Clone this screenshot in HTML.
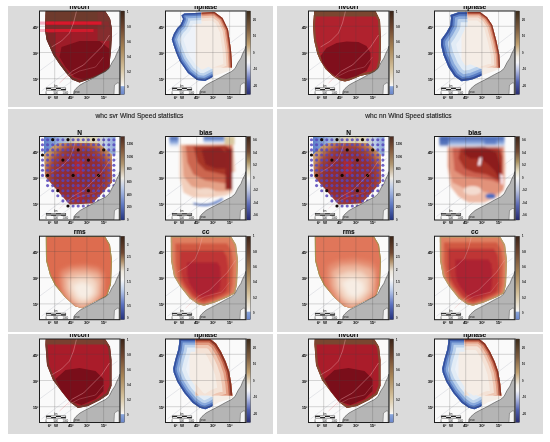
<!DOCTYPE html>
<html><head><meta charset="utf-8"><title>Wind Speed statistics</title>
<style>
html,body{margin:0;padding:0;background:#fff;width:550px;height:442px;overflow:hidden}
svg{display:block}
text{font-family:"Liberation Sans",Arial,sans-serif;fill:#1a1a1a}
.ttl{font-size:6.6px;font-weight:bold;fill:#0a0a0a;stroke:#111;stroke-width:0.1px}
.ptl{font-size:6.65px;fill:#111;stroke:#333;stroke-width:0.12px}
.ax{font-size:4.3px;fill:#111;font-weight:bold;letter-spacing:-0.3px}
.cbt{font-size:2.7px;fill:#000;font-weight:bold}
.tiny{font-size:2.6px;fill:#222}
.tiny2{font-size:3.2px;fill:#222}
</style></head><body>
<svg width="550" height="442" viewBox="0 0 550 442">
<defs><filter id="bl1" x="-10%" y="-10%" width="120%" height="120%"><feGaussianBlur stdDeviation="1.3"/></filter><filter id="bl2" x="-10%" y="-10%" width="120%" height="120%"><feGaussianBlur stdDeviation="2.2"/></filter><filter id="bl05" x="-10%" y="-10%" width="120%" height="120%"><feGaussianBlur stdDeviation="0.6"/></filter><clipPath id="cr1"><rect x="39.5" y="11" width="80.5" height="83.5"/></clipPath><clipPath id="cp2"><polygon points="45.8,11.0 105.0,11.0 110.0,18.8 112.0,29.5 111.6,40.0 111.0,51.0 110.0,59.4 109.4,69.0 105.7,72.0 96.7,76.6 86.3,80.3 79.5,82.5 72.0,79.6 66.0,72.8 59.4,63.9 53.4,55.0 46.7,40.0 45.0,30.0"/></clipPath><linearGradient id="cb3" x1="0" y1="0" x2="0" y2="1"><stop offset="0" stop-color="#3a2418"/><stop offset="0.2" stop-color="#6e4630"/><stop offset="0.45" stop-color="#a88658"/><stop offset="0.7" stop-color="#d6c4a0"/><stop offset="0.86" stop-color="#f1ece2"/><stop offset="0.9" stop-color="#f8f8f8"/><stop offset="0.905" stop-color="#8aa6da"/><stop offset="1" stop-color="#6a86cc"/></linearGradient><clipPath id="cr4"><rect x="165.5" y="11" width="80.5" height="83.5"/></clipPath><clipPath id="cp5"><polygon points="181.5,15.5 184.2,13.5 214.5,12.0 222.5,18.0 228.0,29.5 231.0,50.0 232.0,65.0 232.0,70.0 226.0,72.0 214.5,76.0 205.0,81.0 197.0,80.0 188.0,73.0 179.7,61.0 176.3,53.0 173.5,45.0 171.8,39.3 174.0,33.6 177.4,28.0 180.8,24.6 183.1,19.0"/></clipPath><clipPath id="cp6"><polygon points="165.5,11.0 201.5,11.0 201.5,63.0 212.5,69.0 212.5,94.5 165.5,94.5"/></clipPath><clipPath id="cr7"><rect x="201.5" y="11" width="80.5" height="56.5"/></clipPath><linearGradient id="cb8" x1="0" y1="0" x2="0" y2="1"><stop offset="0" stop-color="#3a2a1a"/><stop offset="0.22" stop-color="#7e5e40"/><stop offset="0.4" stop-color="#c0a070"/><stop offset="0.55" stop-color="#f2eee6"/><stop offset="0.62" stop-color="#f4f4f8"/><stop offset="0.7" stop-color="#c0c8e8"/><stop offset="0.85" stop-color="#5060b0"/><stop offset="1" stop-color="#282c70"/></linearGradient><clipPath id="cr9"><rect x="39.5" y="136.5" width="80.5" height="83.5"/></clipPath><linearGradient id="lg10" gradientUnits="userSpaceOnUse" x1="43.5" y1="0" x2="115.5" y2="0"><stop offset="0" stop-color="#5a7cc8"/><stop offset="0.22" stop-color="#9cb6e0"/><stop offset="0.45" stop-color="#d8d2b0"/><stop offset="0.72" stop-color="#dcd6b8"/><stop offset="0.86" stop-color="#c0d0e8"/><stop offset="1" stop-color="#88a4d8"/></linearGradient><radialGradient id="rg11" gradientUnits="userSpaceOnUse" cx="79.5" cy="176.5" r="38"><stop offset="0" stop-color="#8a2a36"/><stop offset="0.6" stop-color="#922e36"/><stop offset="0.78" stop-color="#a0443c"/><stop offset="0.9" stop-color="#b87050"/><stop offset="1" stop-color="#c89a6c"/></radialGradient><linearGradient id="cb12" x1="0" y1="0" x2="0" y2="1"><stop offset="0" stop-color="#4a2a20"/><stop offset="0.15" stop-color="#80563a"/><stop offset="0.33" stop-color="#b09670"/><stop offset="0.5" stop-color="#eeeae2"/><stop offset="0.62" stop-color="#b8c8e8"/><stop offset="0.82" stop-color="#5e78c2"/><stop offset="1" stop-color="#24347e"/></linearGradient><clipPath id="cr13"><rect x="165.5" y="136.5" width="80.5" height="83.5"/></clipPath><linearGradient id="lg14" x1="0" y1="0" x2="0" y2="1"><stop offset="0" stop-color="#3a5aac"/><stop offset="0.5" stop-color="#8eaade"/><stop offset="1" stop-color="#e8eef8" stop-opacity="0"/></linearGradient><linearGradient id="cb15" x1="0" y1="0" x2="0" y2="1"><stop offset="0" stop-color="#3a2418"/><stop offset="0.18" stop-color="#704832"/><stop offset="0.3" stop-color="#a89060"/><stop offset="0.42" stop-color="#e8e0c8"/><stop offset="0.5" stop-color="#f6f6f6"/><stop offset="0.64" stop-color="#c0c8e0"/><stop offset="0.82" stop-color="#5a68b4"/><stop offset="1" stop-color="#262a70"/></linearGradient><clipPath id="cr16"><rect x="39.5" y="236.2" width="80.5" height="83.5"/></clipPath><clipPath id="cp17"><polygon points="45.8,236.2 105.0,236.2 110.0,244.7 112.0,260.2 111.0,284.2 107.0,296.2 95.0,301.2 82.0,308.2 75.0,306.2 65.0,297.2 55.0,285.2 50.0,275.2 46.0,260.2"/></clipPath><linearGradient id="cb18" x1="0" y1="0" x2="0" y2="1"><stop offset="0" stop-color="#3a2418"/><stop offset="0.2" stop-color="#704832"/><stop offset="0.3" stop-color="#b0906a"/><stop offset="0.42" stop-color="#ece6da"/><stop offset="0.52" stop-color="#f6f6f6"/><stop offset="0.64" stop-color="#c0d0ec"/><stop offset="0.82" stop-color="#5a70c0"/><stop offset="1" stop-color="#24307a"/></linearGradient><clipPath id="cr19"><rect x="165.5" y="236.2" width="80.5" height="83.5"/></clipPath><clipPath id="cp20"><polygon points="170.8,236.2 231.0,236.2 236.0,244.7 238.0,260.2 237.0,284.2 235.0,293.2 227.5,297.2 215.5,302.2 204.0,305.7 198.0,304.2 189.5,298.2 180.0,286.2 174.0,276.2 171.0,260.2"/></clipPath><linearGradient id="cb21" x1="0" y1="0" x2="0" y2="1"><stop offset="0" stop-color="#3a2418"/><stop offset="0.2" stop-color="#6e4630"/><stop offset="0.45" stop-color="#a88658"/><stop offset="0.7" stop-color="#d6c4a0"/><stop offset="0.86" stop-color="#f1ece2"/><stop offset="0.9" stop-color="#f8f8f8"/><stop offset="0.905" stop-color="#8aa6da"/><stop offset="1" stop-color="#6a86cc"/></linearGradient><clipPath id="cr22"><rect x="39.5" y="339" width="80.5" height="83.5"/></clipPath><clipPath id="cp23"><polygon points="45.8,339.0 105.0,339.0 110.0,346.8 111.5,360.0 111.5,385.7 108.0,394.4 100.0,400.0 88.0,406.0 78.0,408.0 70.0,402.0 62.0,392.0 53.0,380.0 47.0,365.0 45.5,345.0"/></clipPath><linearGradient id="cb24" x1="0" y1="0" x2="0" y2="1"><stop offset="0" stop-color="#3a2418"/><stop offset="0.2" stop-color="#6e4630"/><stop offset="0.45" stop-color="#a88658"/><stop offset="0.7" stop-color="#d6c4a0"/><stop offset="0.86" stop-color="#f1ece2"/><stop offset="0.9" stop-color="#f8f8f8"/><stop offset="0.905" stop-color="#8aa6da"/><stop offset="1" stop-color="#6a86cc"/></linearGradient><clipPath id="cr25"><rect x="165.5" y="339" width="80.5" height="83.5"/></clipPath><clipPath id="cp26"><polygon points="179.3,339.0 210.3,339.0 216.0,343.5 221.1,351.8 225.7,361.5 229.2,371.6 231.3,383.9 232.3,395.1 233.3,398.1 227.2,399.7 219.0,402.2 211.4,406.8 205.3,409.3 199.7,407.8 192.6,402.7 184.4,393.0 177.3,381.8 173.7,372.6 173.2,368.6 175.3,359.4 178.3,349.2 179.3,342.0"/></clipPath><clipPath id="cp27"><polygon points="165.5,339.0 195.5,339.0 195.5,391.0 212.5,397.0 212.5,422.5 165.5,422.5"/></clipPath><clipPath id="cr28"><rect x="195.5" y="339" width="80.5" height="56.5"/></clipPath><linearGradient id="cb29" x1="0" y1="0" x2="0" y2="1"><stop offset="0" stop-color="#3a2a1a"/><stop offset="0.22" stop-color="#7e5e40"/><stop offset="0.4" stop-color="#c0a070"/><stop offset="0.55" stop-color="#f2eee6"/><stop offset="0.62" stop-color="#f4f4f8"/><stop offset="0.7" stop-color="#c0c8e8"/><stop offset="0.85" stop-color="#5060b0"/><stop offset="1" stop-color="#282c70"/></linearGradient><clipPath id="cr30"><rect x="308.5" y="11" width="80.5" height="83.5"/></clipPath><clipPath id="cp31"><polygon points="314.3,11.0 375.4,11.0 380.0,20.2 381.0,40.0 380.5,60.0 378.0,70.1 372.3,73.2 360.0,76.0 349.9,80.3 345.0,81.5 339.7,80.3 333.0,76.0 325.5,69.1 320.0,60.0 317.3,53.8 314.0,40.0 313.0,25.0"/></clipPath><linearGradient id="cb32" x1="0" y1="0" x2="0" y2="1"><stop offset="0" stop-color="#3a2418"/><stop offset="0.2" stop-color="#6e4630"/><stop offset="0.45" stop-color="#a88658"/><stop offset="0.7" stop-color="#d6c4a0"/><stop offset="0.86" stop-color="#f1ece2"/><stop offset="0.9" stop-color="#f8f8f8"/><stop offset="0.905" stop-color="#8aa6da"/><stop offset="1" stop-color="#6a86cc"/></linearGradient><clipPath id="cr33"><rect x="434.5" y="11" width="80.5" height="83.5"/></clipPath><clipPath id="cp34"><polygon points="450.5,15.0 458.5,12.2 480.0,12.0 487.0,17.2 492.2,25.0 496.3,40.6 499.3,54.8 500.0,68.0 497.0,70.0 485.0,74.2 472.8,79.3 470.0,80.0 461.6,81.3 454.5,76.2 448.4,67.0 443.3,54.8 441.0,45.0 441.3,39.6 446.4,32.4 450.4,25.3 451.0,18.0"/></clipPath><clipPath id="cp35"><polygon points="434.5,11.0 467.5,11.0 467.5,63.0 481.5,69.0 481.5,94.5 434.5,94.5"/></clipPath><clipPath id="cr36"><rect x="467.5" y="11" width="80.5" height="56.5"/></clipPath><linearGradient id="cb37" x1="0" y1="0" x2="0" y2="1"><stop offset="0" stop-color="#3a2a1a"/><stop offset="0.22" stop-color="#7e5e40"/><stop offset="0.4" stop-color="#c0a070"/><stop offset="0.55" stop-color="#f2eee6"/><stop offset="0.62" stop-color="#f4f4f8"/><stop offset="0.7" stop-color="#c0c8e8"/><stop offset="0.85" stop-color="#5060b0"/><stop offset="1" stop-color="#282c70"/></linearGradient><clipPath id="cr38"><rect x="308.5" y="136.5" width="80.5" height="83.5"/></clipPath><linearGradient id="lg39" gradientUnits="userSpaceOnUse" x1="312.5" y1="0" x2="384.5" y2="0"><stop offset="0" stop-color="#5a7cc8"/><stop offset="0.22" stop-color="#9cb6e0"/><stop offset="0.45" stop-color="#d8d2b0"/><stop offset="0.72" stop-color="#dcd6b8"/><stop offset="0.86" stop-color="#c0d0e8"/><stop offset="1" stop-color="#88a4d8"/></linearGradient><radialGradient id="rg40" gradientUnits="userSpaceOnUse" cx="348.5" cy="176.5" r="38"><stop offset="0" stop-color="#8a2a36"/><stop offset="0.6" stop-color="#922e36"/><stop offset="0.78" stop-color="#a0443c"/><stop offset="0.9" stop-color="#b87050"/><stop offset="1" stop-color="#c89a6c"/></radialGradient><linearGradient id="cb41" x1="0" y1="0" x2="0" y2="1"><stop offset="0" stop-color="#4a2a20"/><stop offset="0.15" stop-color="#80563a"/><stop offset="0.33" stop-color="#b09670"/><stop offset="0.5" stop-color="#eeeae2"/><stop offset="0.62" stop-color="#b8c8e8"/><stop offset="0.82" stop-color="#5e78c2"/><stop offset="1" stop-color="#24347e"/></linearGradient><clipPath id="cr42"><rect x="434.5" y="136.5" width="80.5" height="83.5"/></clipPath><linearGradient id="lg43" x1="0" y1="0" x2="0" y2="1"><stop offset="0" stop-color="#3a5aac"/><stop offset="0.5" stop-color="#8eaade"/><stop offset="1" stop-color="#e8eef8" stop-opacity="0"/></linearGradient><linearGradient id="cb44" x1="0" y1="0" x2="0" y2="1"><stop offset="0" stop-color="#3a2418"/><stop offset="0.18" stop-color="#704832"/><stop offset="0.3" stop-color="#a89060"/><stop offset="0.42" stop-color="#e8e0c8"/><stop offset="0.5" stop-color="#f6f6f6"/><stop offset="0.64" stop-color="#c0c8e0"/><stop offset="0.82" stop-color="#5a68b4"/><stop offset="1" stop-color="#262a70"/></linearGradient><clipPath id="cr45"><rect x="308.5" y="236.2" width="80.5" height="83.5"/></clipPath><clipPath id="cp46"><polygon points="314.8,236.2 374.0,236.2 379.0,244.7 381.0,260.2 380.0,284.2 376.0,296.2 364.0,301.2 351.0,308.2 344.0,306.2 334.0,297.2 324.0,285.2 319.0,275.2 315.0,260.2"/></clipPath><linearGradient id="cb47" x1="0" y1="0" x2="0" y2="1"><stop offset="0" stop-color="#3a2418"/><stop offset="0.2" stop-color="#704832"/><stop offset="0.3" stop-color="#b0906a"/><stop offset="0.42" stop-color="#ece6da"/><stop offset="0.52" stop-color="#f6f6f6"/><stop offset="0.64" stop-color="#c0d0ec"/><stop offset="0.82" stop-color="#5a70c0"/><stop offset="1" stop-color="#24307a"/></linearGradient><clipPath id="cr48"><rect x="434.5" y="236.2" width="80.5" height="83.5"/></clipPath><clipPath id="cp49"><polygon points="439.8,236.2 500.0,236.2 505.0,244.7 507.0,260.2 506.0,284.2 504.0,293.2 496.5,297.2 484.5,302.2 473.0,305.7 467.0,304.2 458.5,298.2 449.0,286.2 443.0,276.2 440.0,260.2"/></clipPath><linearGradient id="cb50" x1="0" y1="0" x2="0" y2="1"><stop offset="0" stop-color="#3a2418"/><stop offset="0.2" stop-color="#6e4630"/><stop offset="0.45" stop-color="#a88658"/><stop offset="0.7" stop-color="#d6c4a0"/><stop offset="0.86" stop-color="#f1ece2"/><stop offset="0.9" stop-color="#f8f8f8"/><stop offset="0.905" stop-color="#8aa6da"/><stop offset="1" stop-color="#6a86cc"/></linearGradient><clipPath id="cr51"><rect x="308.5" y="339" width="80.5" height="83.5"/></clipPath><clipPath id="cp52"><polygon points="314.8,339.0 374.0,339.0 379.0,346.8 380.5,360.0 380.5,385.7 377.0,394.4 369.0,400.0 357.0,406.0 347.0,408.0 339.0,402.0 331.0,392.0 322.0,380.0 316.0,365.0 314.5,345.0"/></clipPath><linearGradient id="cb53" x1="0" y1="0" x2="0" y2="1"><stop offset="0" stop-color="#3a2418"/><stop offset="0.2" stop-color="#6e4630"/><stop offset="0.45" stop-color="#a88658"/><stop offset="0.7" stop-color="#d6c4a0"/><stop offset="0.86" stop-color="#f1ece2"/><stop offset="0.9" stop-color="#f8f8f8"/><stop offset="0.905" stop-color="#8aa6da"/><stop offset="1" stop-color="#6a86cc"/></linearGradient><clipPath id="cr54"><rect x="434.5" y="339" width="80.5" height="83.5"/></clipPath><clipPath id="cp55"><polygon points="448.3,339.0 479.3,339.0 485.0,343.5 490.1,351.8 494.7,361.5 498.2,371.6 500.3,383.9 501.3,395.1 502.3,398.1 496.2,399.7 488.0,402.2 480.4,406.8 474.3,409.3 468.7,407.8 461.6,402.7 453.4,393.0 446.3,381.8 442.7,372.6 442.2,368.6 444.3,359.4 447.3,349.2 448.3,342.0"/></clipPath><clipPath id="cp56"><polygon points="434.5,339.0 464.5,339.0 464.5,391.0 481.5,397.0 481.5,422.5 434.5,422.5"/></clipPath><clipPath id="cr57"><rect x="464.5" y="339" width="80.5" height="56.5"/></clipPath><linearGradient id="cb58" x1="0" y1="0" x2="0" y2="1"><stop offset="0" stop-color="#3a2a1a"/><stop offset="0.22" stop-color="#7e5e40"/><stop offset="0.4" stop-color="#c0a070"/><stop offset="0.55" stop-color="#f2eee6"/><stop offset="0.62" stop-color="#f4f4f8"/><stop offset="0.7" stop-color="#c0c8e8"/><stop offset="0.85" stop-color="#5060b0"/><stop offset="1" stop-color="#282c70"/></linearGradient></defs>
<rect x="0" y="0" width="550" height="442" fill="#fff"/>
<rect x="8" y="6" width="265" height="101" fill="#dbdbdb"/>
<rect x="8" y="109" width="265" height="223" fill="#dbdbdb"/>
<rect x="8" y="334" width="265" height="100" fill="#dbdbdb"/>
<rect x="277" y="6" width="266" height="101" fill="#dbdbdb"/>
<rect x="277" y="109" width="266" height="223" fill="#dbdbdb"/>
<rect x="277" y="334" width="266" height="100" fill="#dbdbdb"/>
<g clip-path="url(#cr1)">
<rect x="39.5" y="11" width="80.5" height="83.5" fill="#fafafa"/>
<path d="M41.5,91 L117.5,33 M53.5,94.5 L119.5,47 M39.5,71 L69.5,49" stroke="#cfd0d8" stroke-width="0.5" fill="none"/>
<rect x="39.5" y="21.5" width="8" height="3.2" fill="#f6b0c4"/>
<rect x="39.5" y="29" width="8" height="3" fill="#f6b8c8"/>
<polygon points="45.8,11.0 105.0,11.0 110.0,18.8 112.0,29.5 111.6,40.0 111.0,51.0 110.0,59.4 109.4,69.0 105.7,72.0 96.7,76.6 86.3,80.3 79.5,82.5 72.0,79.6 66.0,72.8 59.4,63.9 53.4,55.0 46.7,40.0 45.0,30.0" fill="#6a3228" />
<g clip-path="url(#cp2)">
<polygon points="45.8,11.0 105.0,11.0 110.0,18.8 112.0,29.5 111.6,40.0 111.0,51.0 110.0,59.4 109.4,69.0 105.7,72.0 96.7,76.6 86.3,80.3 79.5,82.5 72.0,79.6 66.0,72.8 59.4,63.9 53.4,55.0 46.7,40.0 45.0,30.0" fill="#9e1c28" stroke="#6a3228" stroke-width="4"/>
<rect x="39.5" y="11" width="80.5" height="5.5" fill="#6e3a2c"/>
<rect x="39.5" y="11" width="80.5" height="10.5" fill="#6e3a2c"/>
<rect x="45.5" y="24.7" width="60" height="4.3" fill="#7e2a2a"/>
<rect x="97.5" y="11" width="16" height="30" fill="#7a3430" opacity="0.7"/>
<rect x="45.5" y="21.5" width="56" height="3.2" fill="#d8182c"/>
<rect x="45.5" y="29" width="48" height="3" fill="#d01a2c"/>
<rect x="45.5" y="33" width="10" height="26" fill="#6c2a26" opacity="0.6"/>
<polygon points="61.5,47.0 79.5,41.0 99.5,41.0 109.5,49.0 109.5,67.0 99.5,74.0 84.5,80.0 74.5,77.0 65.5,67.0 59.5,57.0" fill="#7a0f1a"/>
</g>
<path d="M59.5,83 L72.5,71 L83.5,65 L91.5,57 L101.5,47 L109.5,35" stroke="#eaa0a8" stroke-opacity="0.75" stroke-width="0.6" fill="none"/>
<path d="M51.5,47 L61.5,41 L69.5,33 L73.5,23 L76.5,11" stroke="#eaa0a8" stroke-opacity="0.75" stroke-width="0.6" fill="none"/>
<path d="M67.5,77 L79.5,71 L95.5,67 L103.5,57" stroke="#eaa0a8" stroke-opacity="0.5249999999999999" stroke-width="0.5" fill="none"/>
<polygon points="120.0,46.0 119.0,49.0 116.5,54.0 115.0,58.0 112.0,62.5 109.0,68.5 105.5,71.5 99.5,74.5 96.0,76.5 89.5,80.0 84.5,82.5 80.0,85.0 76.0,88.5 74.0,91.0 73.5,94.5 120.0,94.5" fill="#b5b5b5" stroke="#333"  stroke-width="0.5"/>
<polygon points="114.5,85.0 117.5,83.0 119.0,83.0 119.0,94.5 114.0,94.5" fill="#f2f2f2" stroke="#444" stroke-width="0.4"/>
<line x1="39.5" y1="26.3" x2="120.0" y2="26.3" stroke="#444" stroke-opacity="0.38" stroke-width="0.55"/>
<line x1="39.5" y1="52.5" x2="120.0" y2="52.5" stroke="#444" stroke-opacity="0.38" stroke-width="0.55"/>
<line x1="39.5" y1="78.7" x2="120.0" y2="78.7" stroke="#444" stroke-opacity="0.38" stroke-width="0.55"/>
<line x1="54.7" y1="11" x2="54.7" y2="94.5" stroke="#444" stroke-opacity="0.38" stroke-width="0.55"/>
<line x1="70.7" y1="11" x2="70.7" y2="94.5" stroke="#444" stroke-opacity="0.38" stroke-width="0.55"/>
<line x1="86.9" y1="11" x2="86.9" y2="94.5" stroke="#444" stroke-opacity="0.38" stroke-width="0.55"/>
<line x1="103.6" y1="11" x2="103.6" y2="94.5" stroke="#444" stroke-opacity="0.38" stroke-width="0.55"/>
<rect x="46.2" y="87.9" width="19.6" height="2.2" fill="#fff" stroke="#222" stroke-width="0.5"/>
<rect x="46.2" y="87.9" width="4.9" height="1.1" fill="#222"/><rect x="56.0" y="87.9" width="4.9" height="1.1" fill="#222"/>
<rect x="51.1" y="89" width="4.9" height="1.1" fill="#222"/><rect x="60.9" y="89" width="4.9" height="1.1" fill="#222"/>
<text x="54.0" y="86.6" class="tiny">km</text>
<text x="45.5" y="93.5" class="tiny">0</text><text x="53.5" y="93.5" class="tiny">500</text><text x="62.5" y="93.5" class="tiny">1000</text>
<text x="74.5" y="92.5" class="tiny2">pso</text>
</g>
<rect x="39.5" y="11" width="80.5" height="83.5" fill="none" stroke="#1e1e1e" stroke-width="1"/>
<rect x="120.6" y="11" width="4" height="83.5" fill="url(#cb3)" stroke="#333" stroke-width="0.4"/>
<text x="127.0" y="12.5" class="cbt">1</text>
<text x="127.0" y="27.6" class="cbt">0.8</text>
<text x="127.0" y="42.7" class="cbt">0.6</text>
<text x="127.0" y="57.8" class="cbt">0.4</text>
<text x="127.0" y="72.9" class="cbt">0.2</text>
<text x="127.0" y="88.0" class="cbt">0</text>
<text x="38.3" y="28.5" class="ax" text-anchor="end">45°</text>
<text x="38.3" y="54.7" class="ax" text-anchor="end">30°</text>
<text x="38.3" y="80.9" class="ax" text-anchor="end">15°</text>
<text x="49.5" y="98.7" class="ax" text-anchor="middle">6°</text>
<text x="56.0" y="98.7" class="ax" text-anchor="middle">W</text>
<text x="70.7" y="98.7" class="ax" text-anchor="middle">45°</text>
<text x="86.9" y="98.7" class="ax" text-anchor="middle">30°</text>
<text x="103.6" y="98.7" class="ax" text-anchor="middle">15°</text>
<text x="79.75" y="9.2" class="ttl" text-anchor="middle">nvcorr</text>
<g clip-path="url(#cr4)">
<rect x="165.5" y="11" width="80.5" height="83.5" fill="#fafafa"/>
<path d="M167.5,91 L243.5,33 M179.5,94.5 L245.5,47 M165.5,71 L195.5,49" stroke="#cfd0d8" stroke-width="0.5" fill="none"/>
<polygon points="181.5,15.5 184.2,13.5 214.5,12.0 222.5,18.0 228.0,29.5 231.0,50.0 232.0,65.0 232.0,70.0 226.0,72.0 214.5,76.0 205.0,81.0 197.0,80.0 188.0,73.0 179.7,61.0 176.3,53.0 173.5,45.0 171.8,39.3 174.0,33.6 177.4,28.0 180.8,24.6 183.1,19.0" fill="#f5ede6" />
<g clip-path="url(#cp5)">
<rect x="165.5" y="11" width="30" height="83.5" fill="#eef2f8"/>
<g clip-path="url(#cp6)" fill="none" stroke-linejoin="round">
<polygon points="181.5,15.5 184.2,13.5 214.5,12.0 222.5,18.0 228.0,29.5 231.0,50.0 232.0,65.0 232.0,70.0 226.0,72.0 214.5,76.0 205.0,81.0 197.0,80.0 188.0,73.0 179.7,61.0 176.3,53.0 173.5,45.0 171.8,39.3 174.0,33.6 177.4,28.0 180.8,24.6 183.1,19.0" stroke="#e2ecf6" stroke-width="22.0"/>
<polygon points="181.5,15.5 184.2,13.5 214.5,12.0 222.5,18.0 228.0,29.5 231.0,50.0 232.0,65.0 232.0,70.0 226.0,72.0 214.5,76.0 205.0,81.0 197.0,80.0 188.0,73.0 179.7,61.0 176.3,53.0 173.5,45.0 171.8,39.3 174.0,33.6 177.4,28.0 180.8,24.6 183.1,19.0" stroke="#bcd2ec" stroke-width="15.0"/>
<polygon points="181.5,15.5 184.2,13.5 214.5,12.0 222.5,18.0 228.0,29.5 231.0,50.0 232.0,65.0 232.0,70.0 226.0,72.0 214.5,76.0 205.0,81.0 197.0,80.0 188.0,73.0 179.7,61.0 176.3,53.0 173.5,45.0 171.8,39.3 174.0,33.6 177.4,28.0 180.8,24.6 183.1,19.0" stroke="#8aaadc" stroke-width="10.0"/>
<polygon points="181.5,15.5 184.2,13.5 214.5,12.0 222.5,18.0 228.0,29.5 231.0,50.0 232.0,65.0 232.0,70.0 226.0,72.0 214.5,76.0 205.0,81.0 197.0,80.0 188.0,73.0 179.7,61.0 176.3,53.0 173.5,45.0 171.8,39.3 174.0,33.6 177.4,28.0 180.8,24.6 183.1,19.0" stroke="#5a7ec4" stroke-width="6.0"/>
<polygon points="181.5,15.5 184.2,13.5 214.5,12.0 222.5,18.0 228.0,29.5 231.0,50.0 232.0,65.0 232.0,70.0 226.0,72.0 214.5,76.0 205.0,81.0 197.0,80.0 188.0,73.0 179.7,61.0 176.3,53.0 173.5,45.0 171.8,39.3 174.0,33.6 177.4,28.0 180.8,24.6 183.1,19.0" stroke="#34509e" stroke-width="3.0"/>
</g>
<g clip-path="url(#cr7)" fill="none" stroke-linejoin="round">
<polygon points="181.5,15.5 184.2,13.5 214.5,12.0 222.5,18.0 228.0,29.5 231.0,50.0 232.0,65.0 232.0,70.0 226.0,72.0 214.5,76.0 205.0,81.0 197.0,80.0 188.0,73.0 179.7,61.0 176.3,53.0 173.5,45.0 171.8,39.3 174.0,33.6 177.4,28.0 180.8,24.6 183.1,19.0" stroke="#f4e2d6" stroke-width="17.0"/>
<polygon points="181.5,15.5 184.2,13.5 214.5,12.0 222.5,18.0 228.0,29.5 231.0,50.0 232.0,65.0 232.0,70.0 226.0,72.0 214.5,76.0 205.0,81.0 197.0,80.0 188.0,73.0 179.7,61.0 176.3,53.0 173.5,45.0 171.8,39.3 174.0,33.6 177.4,28.0 180.8,24.6 183.1,19.0" stroke="#efc6b2" stroke-width="11.0"/>
<polygon points="181.5,15.5 184.2,13.5 214.5,12.0 222.5,18.0 228.0,29.5 231.0,50.0 232.0,65.0 232.0,70.0 226.0,72.0 214.5,76.0 205.0,81.0 197.0,80.0 188.0,73.0 179.7,61.0 176.3,53.0 173.5,45.0 171.8,39.3 174.0,33.6 177.4,28.0 180.8,24.6 183.1,19.0" stroke="#e29c82" stroke-width="7.0"/>
<polygon points="181.5,15.5 184.2,13.5 214.5,12.0 222.5,18.0 228.0,29.5 231.0,50.0 232.0,65.0 232.0,70.0 226.0,72.0 214.5,76.0 205.0,81.0 197.0,80.0 188.0,73.0 179.7,61.0 176.3,53.0 173.5,45.0 171.8,39.3 174.0,33.6 177.4,28.0 180.8,24.6 183.1,19.0" stroke="#c4644c" stroke-width="4.2"/>
<polygon points="181.5,15.5 184.2,13.5 214.5,12.0 222.5,18.0 228.0,29.5 231.0,50.0 232.0,65.0 232.0,70.0 226.0,72.0 214.5,76.0 205.0,81.0 197.0,80.0 188.0,73.0 179.7,61.0 176.3,53.0 173.5,45.0 171.8,39.3 174.0,33.6 177.4,28.0 180.8,24.6 183.1,19.0" stroke="#883222" stroke-width="2.2"/>
</g>
</g>
<polygon points="246.0,46.0 245.0,49.0 242.5,54.0 241.0,58.0 238.0,62.5 235.0,68.5 231.5,71.5 225.5,74.5 222.0,76.5 215.5,80.0 210.5,82.5 206.0,85.0 202.0,88.5 200.0,91.0 199.5,94.5 246.0,94.5" fill="#b5b5b5" stroke="#333"  stroke-width="0.5"/>
<polygon points="240.5,85.0 243.5,83.0 245.0,83.0 245.0,94.5 240.0,94.5" fill="#f2f2f2" stroke="#444" stroke-width="0.4"/>
<line x1="165.5" y1="26.3" x2="246.0" y2="26.3" stroke="#444" stroke-opacity="0.38" stroke-width="0.55"/>
<line x1="165.5" y1="52.5" x2="246.0" y2="52.5" stroke="#444" stroke-opacity="0.38" stroke-width="0.55"/>
<line x1="165.5" y1="78.7" x2="246.0" y2="78.7" stroke="#444" stroke-opacity="0.38" stroke-width="0.55"/>
<line x1="180.7" y1="11" x2="180.7" y2="94.5" stroke="#444" stroke-opacity="0.38" stroke-width="0.55"/>
<line x1="196.7" y1="11" x2="196.7" y2="94.5" stroke="#444" stroke-opacity="0.38" stroke-width="0.55"/>
<line x1="212.9" y1="11" x2="212.9" y2="94.5" stroke="#444" stroke-opacity="0.38" stroke-width="0.55"/>
<line x1="229.6" y1="11" x2="229.6" y2="94.5" stroke="#444" stroke-opacity="0.38" stroke-width="0.55"/>
<rect x="172.2" y="87.9" width="19.6" height="2.2" fill="#fff" stroke="#222" stroke-width="0.5"/>
<rect x="172.2" y="87.9" width="4.9" height="1.1" fill="#222"/><rect x="182.0" y="87.9" width="4.9" height="1.1" fill="#222"/>
<rect x="177.1" y="89" width="4.9" height="1.1" fill="#222"/><rect x="186.9" y="89" width="4.9" height="1.1" fill="#222"/>
<text x="180.0" y="86.6" class="tiny">km</text>
<text x="171.5" y="93.5" class="tiny">0</text><text x="179.5" y="93.5" class="tiny">500</text><text x="188.5" y="93.5" class="tiny">1000</text>
<text x="200.5" y="92.5" class="tiny2">pso</text>
</g>
<rect x="165.5" y="11" width="80.5" height="83.5" fill="none" stroke="#1e1e1e" stroke-width="1"/>
<rect x="246.6" y="11" width="4" height="83.5" fill="url(#cb8)" stroke="#333" stroke-width="0.4"/>
<text x="253.0" y="20.7" class="cbt">20</text>
<text x="253.0" y="37.2" class="cbt">10</text>
<text x="253.0" y="53.7" class="cbt">0</text>
<text x="253.0" y="70.2" class="cbt">-10</text>
<text x="253.0" y="86.7" class="cbt">-20</text>
<text x="164.3" y="28.5" class="ax" text-anchor="end">45°</text>
<text x="164.3" y="54.7" class="ax" text-anchor="end">30°</text>
<text x="164.3" y="80.9" class="ax" text-anchor="end">15°</text>
<text x="175.5" y="98.7" class="ax" text-anchor="middle">6°</text>
<text x="182.0" y="98.7" class="ax" text-anchor="middle">W</text>
<text x="196.7" y="98.7" class="ax" text-anchor="middle">45°</text>
<text x="212.9" y="98.7" class="ax" text-anchor="middle">30°</text>
<text x="229.6" y="98.7" class="ax" text-anchor="middle">15°</text>
<text x="205.75" y="9.2" class="ttl" text-anchor="middle">npnase</text>
<g clip-path="url(#cr9)">
<rect x="39.5" y="136.5" width="80.5" height="83.5" fill="#fafafa"/>
<path d="M41.5,216.5 L117.5,158.5 M53.5,220.0 L119.5,172.5 M39.5,196.5 L69.5,174.5" stroke="#cfd0d8" stroke-width="0.5" fill="none"/>
<polygon points="44.0,136.5 115.5,136.5 115.5,154.5 111.5,154.5 101.5,146.5 59.5,144.5 44.0,154.5" fill="url(#lg10)"/>
<polygon points="53.5,145.5 59.5,143.0 98.5,143.0 108.5,151.5 112.0,154.5 112.0,182.5 92.5,203.5 69.5,204.5 45.0,176.5 44.0,154.5" fill="url(#rg11)" />
<rect x="74.5" y="160.5" width="8.5" height="14" fill="#b02838" opacity="0.7"/>
<rect x="74.5" y="184.5" width="8" height="18" fill="#a82838" opacity="0.5"/>
<circle cx="42.5" cy="139.7" r="1.55" fill="#5646bc" fill-opacity="0.85"/>
<circle cx="47.6" cy="139.7" r="1.55" fill="#5646bc" fill-opacity="0.85"/>
<circle cx="52.7" cy="139.7" r="1.6" fill="#120808"/>
<circle cx="57.8" cy="139.7" r="1.55" fill="#5646bc" fill-opacity="0.85"/>
<circle cx="62.9" cy="139.7" r="1.55" fill="#5646bc" fill-opacity="0.85"/>
<circle cx="68.0" cy="139.7" r="1.6" fill="#120808"/>
<circle cx="73.1" cy="139.7" r="1.55" fill="#5646bc" fill-opacity="0.85"/>
<circle cx="78.2" cy="139.7" r="1.55" fill="#5646bc" fill-opacity="0.85"/>
<circle cx="83.3" cy="139.7" r="1.55" fill="#5646bc" fill-opacity="0.85"/>
<circle cx="88.4" cy="139.7" r="1.55" fill="#5646bc" fill-opacity="0.85"/>
<circle cx="93.5" cy="139.7" r="1.6" fill="#120808"/>
<circle cx="98.6" cy="139.7" r="1.55" fill="#5646bc" fill-opacity="0.85"/>
<circle cx="103.7" cy="139.7" r="1.55" fill="#5646bc" fill-opacity="0.85"/>
<circle cx="108.8" cy="139.7" r="1.55" fill="#5646bc" fill-opacity="0.85"/>
<circle cx="113.9" cy="139.7" r="1.55" fill="#5646bc" fill-opacity="0.85"/>
<circle cx="42.5" cy="144.8" r="1.55" fill="#5646bc" fill-opacity="0.85"/>
<circle cx="47.6" cy="144.8" r="1.55" fill="#5646bc" fill-opacity="0.85"/>
<circle cx="52.7" cy="144.8" r="1.55" fill="#5646bc" fill-opacity="0.85"/>
<circle cx="57.8" cy="144.8" r="1.55" fill="#5646bc" fill-opacity="0.85"/>
<circle cx="62.9" cy="144.8" r="1.55" fill="#5646bc" fill-opacity="0.85"/>
<circle cx="68.0" cy="144.8" r="1.55" fill="#5646bc" fill-opacity="0.85"/>
<circle cx="73.1" cy="144.8" r="1.55" fill="#5646bc" fill-opacity="0.85"/>
<circle cx="78.2" cy="144.8" r="1.55" fill="#5646bc" fill-opacity="0.85"/>
<circle cx="83.3" cy="144.8" r="1.55" fill="#5646bc" fill-opacity="0.85"/>
<circle cx="88.4" cy="144.8" r="1.55" fill="#5646bc" fill-opacity="0.85"/>
<circle cx="93.5" cy="144.8" r="1.55" fill="#5646bc" fill-opacity="0.85"/>
<circle cx="98.6" cy="144.8" r="1.55" fill="#5646bc" fill-opacity="0.85"/>
<circle cx="103.7" cy="144.8" r="1.55" fill="#5646bc" fill-opacity="0.85"/>
<circle cx="108.8" cy="144.8" r="1.55" fill="#5646bc" fill-opacity="0.85"/>
<circle cx="113.9" cy="144.8" r="1.55" fill="#5646bc" fill-opacity="0.85"/>
<circle cx="42.5" cy="149.9" r="1.55" fill="#5646bc" fill-opacity="0.85"/>
<circle cx="47.6" cy="149.9" r="1.55" fill="#5646bc" fill-opacity="0.85"/>
<circle cx="52.7" cy="149.9" r="1.55" fill="#5646bc" fill-opacity="0.85"/>
<circle cx="57.8" cy="149.9" r="1.55" fill="#5646bc" fill-opacity="0.85"/>
<circle cx="62.9" cy="149.9" r="1.55" fill="#5646bc" fill-opacity="0.85"/>
<circle cx="68.0" cy="149.9" r="1.55" fill="#5646bc" fill-opacity="0.85"/>
<circle cx="73.1" cy="149.9" r="1.55" fill="#5646bc" fill-opacity="0.85"/>
<circle cx="78.2" cy="149.9" r="1.6" fill="#120808"/>
<circle cx="83.3" cy="149.9" r="1.55" fill="#5646bc" fill-opacity="0.85"/>
<circle cx="88.4" cy="149.9" r="1.55" fill="#5646bc" fill-opacity="0.85"/>
<circle cx="93.5" cy="149.9" r="1.55" fill="#5646bc" fill-opacity="0.85"/>
<circle cx="98.6" cy="149.9" r="1.55" fill="#5646bc" fill-opacity="0.85"/>
<circle cx="103.7" cy="149.9" r="1.6" fill="#120808"/>
<circle cx="108.8" cy="149.9" r="1.55" fill="#5646bc" fill-opacity="0.85"/>
<circle cx="113.9" cy="149.9" r="1.55" fill="#5646bc" fill-opacity="0.85"/>
<circle cx="42.5" cy="155.0" r="1.6" fill="#120808"/>
<circle cx="47.6" cy="155.0" r="1.55" fill="#5646bc" fill-opacity="0.85"/>
<circle cx="52.7" cy="155.0" r="1.55" fill="#5646bc" fill-opacity="0.85"/>
<circle cx="57.8" cy="155.0" r="1.55" fill="#5646bc" fill-opacity="0.85"/>
<circle cx="62.9" cy="155.0" r="1.55" fill="#5646bc" fill-opacity="0.85"/>
<circle cx="68.0" cy="155.0" r="1.55" fill="#5646bc" fill-opacity="0.85"/>
<circle cx="73.1" cy="155.0" r="1.55" fill="#5646bc" fill-opacity="0.85"/>
<circle cx="78.2" cy="155.0" r="1.55" fill="#5646bc" fill-opacity="0.85"/>
<circle cx="83.3" cy="155.0" r="1.55" fill="#5646bc" fill-opacity="0.85"/>
<circle cx="88.4" cy="155.0" r="1.55" fill="#5646bc" fill-opacity="0.85"/>
<circle cx="93.5" cy="155.0" r="1.55" fill="#5646bc" fill-opacity="0.85"/>
<circle cx="98.6" cy="155.0" r="1.55" fill="#5646bc" fill-opacity="0.85"/>
<circle cx="103.7" cy="155.0" r="1.55" fill="#5646bc" fill-opacity="0.85"/>
<circle cx="108.8" cy="155.0" r="1.55" fill="#5646bc" fill-opacity="0.85"/>
<circle cx="113.9" cy="155.0" r="1.55" fill="#5646bc" fill-opacity="0.85"/>
<circle cx="42.5" cy="160.1" r="1.55" fill="#5646bc" fill-opacity="0.85"/>
<circle cx="47.6" cy="160.1" r="1.55" fill="#5646bc" fill-opacity="0.85"/>
<circle cx="52.7" cy="160.1" r="1.55" fill="#5646bc" fill-opacity="0.85"/>
<circle cx="57.8" cy="160.1" r="1.55" fill="#5646bc" fill-opacity="0.85"/>
<circle cx="62.9" cy="160.1" r="1.6" fill="#120808"/>
<circle cx="68.0" cy="160.1" r="1.55" fill="#5646bc" fill-opacity="0.85"/>
<circle cx="73.1" cy="160.1" r="1.55" fill="#5646bc" fill-opacity="0.85"/>
<circle cx="78.2" cy="160.1" r="1.55" fill="#5646bc" fill-opacity="0.85"/>
<circle cx="83.3" cy="160.1" r="1.55" fill="#5646bc" fill-opacity="0.85"/>
<circle cx="88.4" cy="160.1" r="1.6" fill="#120808"/>
<circle cx="93.5" cy="160.1" r="1.55" fill="#5646bc" fill-opacity="0.85"/>
<circle cx="98.6" cy="160.1" r="1.55" fill="#5646bc" fill-opacity="0.85"/>
<circle cx="103.7" cy="160.1" r="1.55" fill="#5646bc" fill-opacity="0.85"/>
<circle cx="108.8" cy="160.1" r="1.55" fill="#5646bc" fill-opacity="0.85"/>
<circle cx="113.9" cy="160.1" r="1.55" fill="#5646bc" fill-opacity="0.85"/>
<circle cx="42.5" cy="165.2" r="1.55" fill="#5646bc" fill-opacity="0.85"/>
<circle cx="47.6" cy="165.2" r="1.55" fill="#5646bc" fill-opacity="0.85"/>
<circle cx="52.7" cy="165.2" r="1.55" fill="#5646bc" fill-opacity="0.85"/>
<circle cx="57.8" cy="165.2" r="1.55" fill="#5646bc" fill-opacity="0.85"/>
<circle cx="62.9" cy="165.2" r="1.55" fill="#5646bc" fill-opacity="0.85"/>
<circle cx="68.0" cy="165.2" r="1.55" fill="#5646bc" fill-opacity="0.85"/>
<circle cx="73.1" cy="165.2" r="1.55" fill="#5646bc" fill-opacity="0.85"/>
<circle cx="78.2" cy="165.2" r="1.55" fill="#5646bc" fill-opacity="0.85"/>
<circle cx="83.3" cy="165.2" r="1.55" fill="#5646bc" fill-opacity="0.85"/>
<circle cx="88.4" cy="165.2" r="1.55" fill="#5646bc" fill-opacity="0.85"/>
<circle cx="93.5" cy="165.2" r="1.55" fill="#5646bc" fill-opacity="0.85"/>
<circle cx="98.6" cy="165.2" r="1.55" fill="#5646bc" fill-opacity="0.85"/>
<circle cx="103.7" cy="165.2" r="1.55" fill="#5646bc" fill-opacity="0.85"/>
<circle cx="108.8" cy="165.2" r="1.55" fill="#5646bc" fill-opacity="0.85"/>
<circle cx="113.9" cy="165.2" r="1.55" fill="#5646bc" fill-opacity="0.85"/>
<circle cx="42.5" cy="170.3" r="1.55" fill="#5646bc" fill-opacity="0.85"/>
<circle cx="47.6" cy="170.3" r="1.55" fill="#5646bc" fill-opacity="0.85"/>
<circle cx="52.7" cy="170.3" r="1.55" fill="#5646bc" fill-opacity="0.85"/>
<circle cx="57.8" cy="170.3" r="1.55" fill="#5646bc" fill-opacity="0.85"/>
<circle cx="62.9" cy="170.3" r="1.55" fill="#5646bc" fill-opacity="0.85"/>
<circle cx="68.0" cy="170.3" r="1.55" fill="#5646bc" fill-opacity="0.85"/>
<circle cx="73.1" cy="170.3" r="1.55" fill="#5646bc" fill-opacity="0.85"/>
<circle cx="78.2" cy="170.3" r="1.55" fill="#5646bc" fill-opacity="0.85"/>
<circle cx="83.3" cy="170.3" r="1.55" fill="#5646bc" fill-opacity="0.85"/>
<circle cx="88.4" cy="170.3" r="1.55" fill="#5646bc" fill-opacity="0.85"/>
<circle cx="93.5" cy="170.3" r="1.55" fill="#5646bc" fill-opacity="0.85"/>
<circle cx="98.6" cy="170.3" r="1.55" fill="#5646bc" fill-opacity="0.85"/>
<circle cx="103.7" cy="170.3" r="1.55" fill="#5646bc" fill-opacity="0.85"/>
<circle cx="108.8" cy="170.3" r="1.55" fill="#5646bc" fill-opacity="0.85"/>
<circle cx="113.9" cy="170.3" r="1.55" fill="#5646bc" fill-opacity="0.85"/>
<circle cx="42.5" cy="175.4" r="1.55" fill="#5646bc" fill-opacity="0.85"/>
<circle cx="47.6" cy="175.4" r="1.6" fill="#120808"/>
<circle cx="52.7" cy="175.4" r="1.55" fill="#5646bc" fill-opacity="0.85"/>
<circle cx="57.8" cy="175.4" r="1.55" fill="#5646bc" fill-opacity="0.85"/>
<circle cx="62.9" cy="175.4" r="1.55" fill="#5646bc" fill-opacity="0.85"/>
<circle cx="68.0" cy="175.4" r="1.55" fill="#5646bc" fill-opacity="0.85"/>
<circle cx="73.1" cy="175.4" r="1.6" fill="#120808"/>
<circle cx="78.2" cy="175.4" r="1.55" fill="#5646bc" fill-opacity="0.85"/>
<circle cx="83.3" cy="175.4" r="1.55" fill="#5646bc" fill-opacity="0.85"/>
<circle cx="88.4" cy="175.4" r="1.55" fill="#5646bc" fill-opacity="0.85"/>
<circle cx="93.5" cy="175.4" r="1.55" fill="#5646bc" fill-opacity="0.85"/>
<circle cx="98.6" cy="175.4" r="1.6" fill="#120808"/>
<circle cx="103.7" cy="175.4" r="1.55" fill="#5646bc" fill-opacity="0.85"/>
<circle cx="108.8" cy="175.4" r="1.55" fill="#5646bc" fill-opacity="0.85"/>
<circle cx="113.9" cy="175.4" r="1.55" fill="#5646bc" fill-opacity="0.85"/>
<circle cx="47.6" cy="180.5" r="1.55" fill="#5646bc" fill-opacity="0.85"/>
<circle cx="52.7" cy="180.5" r="1.55" fill="#5646bc" fill-opacity="0.85"/>
<circle cx="57.8" cy="180.5" r="1.55" fill="#5646bc" fill-opacity="0.85"/>
<circle cx="62.9" cy="180.5" r="1.55" fill="#5646bc" fill-opacity="0.85"/>
<circle cx="68.0" cy="180.5" r="1.55" fill="#5646bc" fill-opacity="0.85"/>
<circle cx="73.1" cy="180.5" r="1.55" fill="#5646bc" fill-opacity="0.85"/>
<circle cx="78.2" cy="180.5" r="1.55" fill="#5646bc" fill-opacity="0.85"/>
<circle cx="83.3" cy="180.5" r="1.55" fill="#5646bc" fill-opacity="0.85"/>
<circle cx="88.4" cy="180.5" r="1.55" fill="#5646bc" fill-opacity="0.85"/>
<circle cx="93.5" cy="180.5" r="1.55" fill="#5646bc" fill-opacity="0.85"/>
<circle cx="98.6" cy="180.5" r="1.55" fill="#5646bc" fill-opacity="0.85"/>
<circle cx="103.7" cy="180.5" r="1.55" fill="#5646bc" fill-opacity="0.85"/>
<circle cx="108.8" cy="180.5" r="1.55" fill="#5646bc" fill-opacity="0.85"/>
<circle cx="113.9" cy="180.5" r="1.55" fill="#5646bc" fill-opacity="0.85"/>
<circle cx="47.6" cy="185.6" r="1.55" fill="#5646bc" fill-opacity="0.85"/>
<circle cx="52.7" cy="185.6" r="1.55" fill="#5646bc" fill-opacity="0.85"/>
<circle cx="57.8" cy="185.6" r="1.55" fill="#5646bc" fill-opacity="0.85"/>
<circle cx="62.9" cy="185.6" r="1.55" fill="#5646bc" fill-opacity="0.85"/>
<circle cx="68.0" cy="185.6" r="1.55" fill="#5646bc" fill-opacity="0.85"/>
<circle cx="73.1" cy="185.6" r="1.55" fill="#5646bc" fill-opacity="0.85"/>
<circle cx="78.2" cy="185.6" r="1.55" fill="#5646bc" fill-opacity="0.85"/>
<circle cx="83.3" cy="185.6" r="1.55" fill="#5646bc" fill-opacity="0.85"/>
<circle cx="88.4" cy="185.6" r="1.55" fill="#5646bc" fill-opacity="0.85"/>
<circle cx="93.5" cy="185.6" r="1.55" fill="#5646bc" fill-opacity="0.85"/>
<circle cx="98.6" cy="185.6" r="1.55" fill="#5646bc" fill-opacity="0.85"/>
<circle cx="103.7" cy="185.6" r="1.55" fill="#5646bc" fill-opacity="0.85"/>
<circle cx="108.8" cy="185.6" r="1.55" fill="#5646bc" fill-opacity="0.85"/>
<circle cx="113.9" cy="185.6" r="1.55" fill="#5646bc" fill-opacity="0.85"/>
<circle cx="52.7" cy="190.7" r="1.55" fill="#5646bc" fill-opacity="0.85"/>
<circle cx="57.8" cy="190.7" r="1.6" fill="#120808"/>
<circle cx="62.9" cy="190.7" r="1.55" fill="#5646bc" fill-opacity="0.85"/>
<circle cx="68.0" cy="190.7" r="1.55" fill="#5646bc" fill-opacity="0.85"/>
<circle cx="73.1" cy="190.7" r="1.55" fill="#5646bc" fill-opacity="0.85"/>
<circle cx="78.2" cy="190.7" r="1.55" fill="#5646bc" fill-opacity="0.85"/>
<circle cx="83.3" cy="190.7" r="1.55" fill="#5646bc" fill-opacity="0.85"/>
<circle cx="88.4" cy="190.7" r="1.6" fill="#120808"/>
<circle cx="93.5" cy="190.7" r="1.55" fill="#5646bc" fill-opacity="0.85"/>
<circle cx="98.6" cy="190.7" r="1.55" fill="#5646bc" fill-opacity="0.85"/>
<circle cx="103.7" cy="190.7" r="1.55" fill="#5646bc" fill-opacity="0.85"/>
<circle cx="108.8" cy="190.7" r="1.55" fill="#5646bc" fill-opacity="0.85"/>
<circle cx="57.8" cy="195.8" r="1.55" fill="#5646bc" fill-opacity="0.85"/>
<circle cx="62.9" cy="195.8" r="1.55" fill="#5646bc" fill-opacity="0.85"/>
<circle cx="68.0" cy="195.8" r="1.55" fill="#5646bc" fill-opacity="0.85"/>
<circle cx="73.1" cy="195.8" r="1.55" fill="#5646bc" fill-opacity="0.85"/>
<circle cx="78.2" cy="195.8" r="1.55" fill="#5646bc" fill-opacity="0.85"/>
<circle cx="83.3" cy="195.8" r="1.55" fill="#5646bc" fill-opacity="0.85"/>
<circle cx="88.4" cy="195.8" r="1.55" fill="#5646bc" fill-opacity="0.85"/>
<circle cx="93.5" cy="195.8" r="1.55" fill="#5646bc" fill-opacity="0.85"/>
<circle cx="98.6" cy="195.8" r="1.55" fill="#5646bc" fill-opacity="0.85"/>
<circle cx="103.7" cy="195.8" r="1.55" fill="#5646bc" fill-opacity="0.85"/>
<circle cx="62.9" cy="200.9" r="1.55" fill="#5646bc" fill-opacity="0.85"/>
<circle cx="68.0" cy="200.9" r="1.55" fill="#5646bc" fill-opacity="0.85"/>
<circle cx="73.1" cy="200.9" r="1.55" fill="#5646bc" fill-opacity="0.85"/>
<circle cx="78.2" cy="200.9" r="1.55" fill="#5646bc" fill-opacity="0.85"/>
<circle cx="83.3" cy="200.9" r="1.55" fill="#5646bc" fill-opacity="0.85"/>
<circle cx="88.4" cy="200.9" r="1.55" fill="#5646bc" fill-opacity="0.85"/>
<circle cx="93.5" cy="200.9" r="1.55" fill="#5646bc" fill-opacity="0.85"/>
<circle cx="98.6" cy="200.9" r="1.55" fill="#5646bc" fill-opacity="0.85"/>
<circle cx="68.0" cy="206.0" r="1.6" fill="#120808"/>
<circle cx="73.1" cy="206.0" r="1.55" fill="#5646bc" fill-opacity="0.85"/>
<circle cx="78.2" cy="206.0" r="1.55" fill="#5646bc" fill-opacity="0.85"/>
<circle cx="83.3" cy="206.0" r="1.55" fill="#5646bc" fill-opacity="0.85"/>
<circle cx="88.4" cy="206.0" r="1.55" fill="#5646bc" fill-opacity="0.85"/>
<circle cx="93.5" cy="206.0" r="1.55" fill="#5646bc" fill-opacity="0.85"/>
<path d="M59.5,208.5 L72.5,196.5 L83.5,190.5 L91.5,182.5 L101.5,172.5 L109.5,160.5" stroke="#f0b0c0" stroke-opacity="0.5" stroke-width="0.6" fill="none"/>
<path d="M51.5,172.5 L61.5,166.5 L69.5,158.5 L73.5,148.5 L76.5,136.5" stroke="#f0b0c0" stroke-opacity="0.5" stroke-width="0.6" fill="none"/>
<path d="M67.5,202.5 L79.5,196.5 L95.5,192.5 L103.5,182.5" stroke="#f0b0c0" stroke-opacity="0.35" stroke-width="0.5" fill="none"/>
<polygon points="120.0,171.5 119.0,174.5 116.5,179.5 115.0,183.5 112.0,188.0 109.0,194.0 105.5,197.0 99.5,200.0 96.0,202.0 89.5,205.5 84.5,208.0 80.0,210.5 76.0,214.0 74.0,216.5 73.5,220.0 120.0,220.0" fill="#b5b5b5" stroke="#333"  stroke-width="0.5"/>
<polygon points="114.5,210.5 117.5,208.5 119.0,208.5 119.0,220.0 114.0,220.0" fill="#f2f2f2" stroke="#444" stroke-width="0.4"/>
<line x1="39.5" y1="151.8" x2="120.0" y2="151.8" stroke="#444" stroke-opacity="0.38" stroke-width="0.55"/>
<line x1="39.5" y1="178.0" x2="120.0" y2="178.0" stroke="#444" stroke-opacity="0.38" stroke-width="0.55"/>
<line x1="39.5" y1="204.2" x2="120.0" y2="204.2" stroke="#444" stroke-opacity="0.38" stroke-width="0.55"/>
<line x1="54.7" y1="136.5" x2="54.7" y2="220.0" stroke="#444" stroke-opacity="0.38" stroke-width="0.55"/>
<line x1="70.7" y1="136.5" x2="70.7" y2="220.0" stroke="#444" stroke-opacity="0.38" stroke-width="0.55"/>
<line x1="86.9" y1="136.5" x2="86.9" y2="220.0" stroke="#444" stroke-opacity="0.38" stroke-width="0.55"/>
<line x1="103.6" y1="136.5" x2="103.6" y2="220.0" stroke="#444" stroke-opacity="0.38" stroke-width="0.55"/>
<rect x="46.2" y="213.4" width="19.6" height="2.2" fill="#fff" stroke="#222" stroke-width="0.5"/>
<rect x="46.2" y="213.4" width="4.9" height="1.1" fill="#222"/><rect x="56.0" y="213.4" width="4.9" height="1.1" fill="#222"/>
<rect x="51.1" y="214.5" width="4.9" height="1.1" fill="#222"/><rect x="60.9" y="214.5" width="4.9" height="1.1" fill="#222"/>
<text x="54.0" y="212.1" class="tiny">km</text>
<text x="45.5" y="219.0" class="tiny">0</text><text x="53.5" y="219.0" class="tiny">500</text><text x="62.5" y="219.0" class="tiny">1000</text>
<text x="74.5" y="218.0" class="tiny2">pso</text>
</g>
<rect x="39.5" y="136.5" width="80.5" height="83.5" fill="none" stroke="#1e1e1e" stroke-width="1"/>
<rect x="120.6" y="136.5" width="4" height="83.5" fill="url(#cb12)" stroke="#333" stroke-width="0.4"/>
<text x="127.0" y="145.1" class="cbt">1200</text>
<text x="127.0" y="157.7" class="cbt">1000</text>
<text x="127.0" y="170.3" class="cbt">800</text>
<text x="127.0" y="182.9" class="cbt">600</text>
<text x="127.0" y="195.5" class="cbt">400</text>
<text x="127.0" y="208.1" class="cbt">200</text>
<text x="127.0" y="220.7" class="cbt">0</text>
<text x="38.3" y="154.0" class="ax" text-anchor="end">45°</text>
<text x="38.3" y="180.2" class="ax" text-anchor="end">30°</text>
<text x="38.3" y="206.39999999999998" class="ax" text-anchor="end">15°</text>
<text x="49.5" y="224.2" class="ax" text-anchor="middle">6°</text>
<text x="56.0" y="224.2" class="ax" text-anchor="middle">W</text>
<text x="70.7" y="224.2" class="ax" text-anchor="middle">45°</text>
<text x="86.9" y="224.2" class="ax" text-anchor="middle">30°</text>
<text x="103.6" y="224.2" class="ax" text-anchor="middle">15°</text>
<text x="79.75" y="134.7" class="ttl" text-anchor="middle">N</text>
<g clip-path="url(#cr13)">
<rect x="165.5" y="136.5" width="80.5" height="83.5" fill="#fafafa"/>
<path d="M167.5,216.5 L243.5,158.5 M179.5,220.0 L245.5,172.5 M165.5,196.5 L195.5,174.5" stroke="#cfd0d8" stroke-width="0.5" fill="none"/>
<g filter="url(#bl1)">
<polygon points="179.5,144.5 233.5,143.5 235.5,172.5 232.5,172.5 232.5,192.5 225.5,195.5 210.5,197.5 193.5,197.5 183.5,192.5 179.5,176.5" fill="#f2cfbc" />
<polygon points="181.5,145.5 232.5,144.5 232.5,190.5 221.5,191.5 207.5,190.5 191.5,186.5 183.5,176.5" fill="#e4a086" />
<polygon points="185.5,145.5 231.5,145.5 231.5,184.5 219.5,182.5 205.5,180.5 193.5,174.5 187.5,162.5" fill="#cc6650" />
<polygon points="193.5,146.5 225.5,145.5 231.5,150.5 231.5,176.5 223.5,174.5 215.5,172.5 205.5,170.5 197.5,162.5" fill="#a83428" />
<polygon points="201.5,149.5 219.5,147.5 227.5,154.5 225.5,168.5 215.5,168.5 205.5,164.5" fill="#8e2020" />
<rect x="225.5" y="148.5" width="7" height="41" fill="#902420"/>
<ellipse cx="205.5" cy="191.5" rx="9" ry="3.5" fill="#f3d8c8"/>
<polygon points="232.5,172.5 241.5,170.5 241.5,192.5 232.5,192.5" fill="#fafafa"/>
<rect x="169.5" y="136.5" width="9" height="12" fill="url(#lg14)"/>
<rect x="203.5" y="136.5" width="21" height="8" fill="url(#lg14)"/>
<rect x="224.5" y="136.5" width="10" height="8" fill="#d8c8a0"/>
<path d="M193.5,203.5 Q203.5,206.5 211.5,204.0 T222.5,198.5" stroke="#5070c0" stroke-width="1.8" fill="none"/>
</g>
<polygon points="246.0,171.5 245.0,174.5 242.5,179.5 241.0,183.5 238.0,188.0 235.0,194.0 231.5,197.0 225.5,200.0 222.0,202.0 215.5,205.5 210.5,208.0 206.0,210.5 202.0,214.0 200.0,216.5 199.5,220.0 246.0,220.0" fill="#b5b5b5" stroke="#333"  stroke-width="0.5"/>
<polygon points="240.5,210.5 243.5,208.5 245.0,208.5 245.0,220.0 240.0,220.0" fill="#f2f2f2" stroke="#444" stroke-width="0.4"/>
<line x1="165.5" y1="151.8" x2="246.0" y2="151.8" stroke="#444" stroke-opacity="0.38" stroke-width="0.55"/>
<line x1="165.5" y1="178.0" x2="246.0" y2="178.0" stroke="#444" stroke-opacity="0.38" stroke-width="0.55"/>
<line x1="165.5" y1="204.2" x2="246.0" y2="204.2" stroke="#444" stroke-opacity="0.38" stroke-width="0.55"/>
<line x1="180.7" y1="136.5" x2="180.7" y2="220.0" stroke="#444" stroke-opacity="0.38" stroke-width="0.55"/>
<line x1="196.7" y1="136.5" x2="196.7" y2="220.0" stroke="#444" stroke-opacity="0.38" stroke-width="0.55"/>
<line x1="212.9" y1="136.5" x2="212.9" y2="220.0" stroke="#444" stroke-opacity="0.38" stroke-width="0.55"/>
<line x1="229.6" y1="136.5" x2="229.6" y2="220.0" stroke="#444" stroke-opacity="0.38" stroke-width="0.55"/>
<rect x="172.2" y="213.4" width="19.6" height="2.2" fill="#fff" stroke="#222" stroke-width="0.5"/>
<rect x="172.2" y="213.4" width="4.9" height="1.1" fill="#222"/><rect x="182.0" y="213.4" width="4.9" height="1.1" fill="#222"/>
<rect x="177.1" y="214.5" width="4.9" height="1.1" fill="#222"/><rect x="186.9" y="214.5" width="4.9" height="1.1" fill="#222"/>
<text x="180.0" y="212.1" class="tiny">km</text>
<text x="171.5" y="219.0" class="tiny">0</text><text x="179.5" y="219.0" class="tiny">500</text><text x="188.5" y="219.0" class="tiny">1000</text>
<text x="200.5" y="218.0" class="tiny2">pso</text>
</g>
<rect x="165.5" y="136.5" width="80.5" height="83.5" fill="none" stroke="#1e1e1e" stroke-width="1"/>
<rect x="246.6" y="136.5" width="4" height="83.5" fill="url(#cb15)" stroke="#333" stroke-width="0.4"/>
<text x="253.0" y="141.4" class="cbt">0.6</text>
<text x="253.0" y="153.9" class="cbt">0.4</text>
<text x="253.0" y="166.4" class="cbt">0.2</text>
<text x="253.0" y="178.9" class="cbt">0</text>
<text x="253.0" y="191.4" class="cbt">-0.2</text>
<text x="253.0" y="203.9" class="cbt">-0.4</text>
<text x="253.0" y="216.4" class="cbt">-0.6</text>
<text x="164.3" y="154.0" class="ax" text-anchor="end">45°</text>
<text x="164.3" y="180.2" class="ax" text-anchor="end">30°</text>
<text x="164.3" y="206.39999999999998" class="ax" text-anchor="end">15°</text>
<text x="175.5" y="224.2" class="ax" text-anchor="middle">6°</text>
<text x="182.0" y="224.2" class="ax" text-anchor="middle">W</text>
<text x="196.7" y="224.2" class="ax" text-anchor="middle">45°</text>
<text x="212.9" y="224.2" class="ax" text-anchor="middle">30°</text>
<text x="229.6" y="224.2" class="ax" text-anchor="middle">15°</text>
<text x="205.75" y="134.7" class="ttl" text-anchor="middle">bias</text>
<g clip-path="url(#cr16)">
<rect x="39.5" y="236.2" width="80.5" height="83.5" fill="#fafafa"/>
<path d="M41.5,316.2 L117.5,258.2 M53.5,319.7 L119.5,272.2 M39.5,296.2 L69.5,274.2" stroke="#cfd0d8" stroke-width="0.5" fill="none"/>
<polygon points="45.8,236.2 105.0,236.2 110.0,244.7 112.0,260.2 111.0,284.2 107.0,296.2 95.0,301.2 82.0,308.2 75.0,306.2 65.0,297.2 55.0,285.2 50.0,275.2 46.0,260.2" fill="#a89050" />
<g clip-path="url(#cp17)">
<polygon points="45.8,236.2 105.0,236.2 110.0,244.7 112.0,260.2 111.0,284.2 107.0,296.2 95.0,301.2 82.0,308.2 75.0,306.2 65.0,297.2 55.0,285.2 50.0,275.2 46.0,260.2" fill="#dd6c4f" stroke="#a89050" stroke-width="2.2"/>
<g filter="url(#bl2)">
<polygon points="60.7,271.1 69.3,266.8 83.9,265.1 98.6,267.7 103.7,274.6 103.7,295.2 98.6,303.8 86.5,309.0 77.9,310.7 69.3,303.8 62.4,293.5 59.0,281.5" fill="#e58e72" />
<polygon points="64.2,276.3 72.8,271.1 86.5,270.3 98.6,273.7 102.0,281.5 100.3,295.2 93.4,303.8 83.1,308.1 76.2,305.5 69.3,298.7 64.2,288.3" fill="#edb59c" />
<polygon points="68.5,280.6 77.9,276.3 90.0,276.3 96.8,282.3 96.8,293.5 90.0,301.2 81.4,303.8 74.5,299.5 69.3,290.1" fill="#f3d8c6" />
<polygon points="72.8,285.8 82.2,281.5 91.7,285.8 92.5,293.5 85.7,299.5 77.9,296.9" fill="#f7ede4" />
</g>
</g>
<polygon points="120.0,271.2 119.0,274.2 116.5,279.2 115.0,283.2 112.0,287.7 109.0,293.7 105.5,296.7 99.5,299.7 96.0,301.7 89.5,305.2 84.5,307.7 80.0,310.2 76.0,313.7 74.0,316.2 73.5,319.7 120.0,319.7" fill="#b5b5b5" stroke="#333"  stroke-width="0.5"/>
<polygon points="114.5,310.2 117.5,308.2 119.0,308.2 119.0,319.7 114.0,319.7" fill="#f2f2f2" stroke="#444" stroke-width="0.4"/>
<line x1="39.5" y1="251.5" x2="120.0" y2="251.5" stroke="#444" stroke-opacity="0.38" stroke-width="0.55"/>
<line x1="39.5" y1="277.7" x2="120.0" y2="277.7" stroke="#444" stroke-opacity="0.38" stroke-width="0.55"/>
<line x1="39.5" y1="303.9" x2="120.0" y2="303.9" stroke="#444" stroke-opacity="0.38" stroke-width="0.55"/>
<line x1="54.7" y1="236.2" x2="54.7" y2="319.7" stroke="#444" stroke-opacity="0.38" stroke-width="0.55"/>
<line x1="70.7" y1="236.2" x2="70.7" y2="319.7" stroke="#444" stroke-opacity="0.38" stroke-width="0.55"/>
<line x1="86.9" y1="236.2" x2="86.9" y2="319.7" stroke="#444" stroke-opacity="0.38" stroke-width="0.55"/>
<line x1="103.6" y1="236.2" x2="103.6" y2="319.7" stroke="#444" stroke-opacity="0.38" stroke-width="0.55"/>
<rect x="46.2" y="313.1" width="19.6" height="2.2" fill="#fff" stroke="#222" stroke-width="0.5"/>
<rect x="46.2" y="313.1" width="4.9" height="1.1" fill="#222"/><rect x="56.0" y="313.1" width="4.9" height="1.1" fill="#222"/>
<rect x="51.1" y="314.2" width="4.9" height="1.1" fill="#222"/><rect x="60.9" y="314.2" width="4.9" height="1.1" fill="#222"/>
<text x="54.0" y="311.79999999999995" class="tiny">km</text>
<text x="45.5" y="318.7" class="tiny">0</text><text x="53.5" y="318.7" class="tiny">500</text><text x="62.5" y="318.7" class="tiny">1000</text>
<text x="74.5" y="317.7" class="tiny2">pso</text>
</g>
<rect x="39.5" y="236.2" width="80.5" height="83.5" fill="none" stroke="#1e1e1e" stroke-width="1"/>
<rect x="120.6" y="236.2" width="4" height="83.5" fill="url(#cb18)" stroke="#333" stroke-width="0.4"/>
<text x="127.0" y="246.1" class="cbt">3</text>
<text x="127.0" y="258.3" class="cbt">2.5</text>
<text x="127.0" y="270.5" class="cbt">2</text>
<text x="127.0" y="282.7" class="cbt">1.5</text>
<text x="127.0" y="294.9" class="cbt">1</text>
<text x="127.0" y="307.1" class="cbt">0.5</text>
<text x="127.0" y="319.3" class="cbt">0</text>
<text x="38.3" y="253.7" class="ax" text-anchor="end">45°</text>
<text x="38.3" y="279.9" class="ax" text-anchor="end">30°</text>
<text x="38.3" y="306.09999999999997" class="ax" text-anchor="end">15°</text>
<text x="49.5" y="323.9" class="ax" text-anchor="middle">6°</text>
<text x="56.0" y="323.9" class="ax" text-anchor="middle">W</text>
<text x="70.7" y="323.9" class="ax" text-anchor="middle">45°</text>
<text x="86.9" y="323.9" class="ax" text-anchor="middle">30°</text>
<text x="103.6" y="323.9" class="ax" text-anchor="middle">15°</text>
<text x="79.75" y="234.39999999999998" class="ttl" text-anchor="middle">rms</text>
<g clip-path="url(#cr19)">
<rect x="165.5" y="236.2" width="80.5" height="83.5" fill="#fafafa"/>
<path d="M167.5,316.2 L243.5,258.2 M179.5,319.7 L245.5,272.2 M165.5,296.2 L195.5,274.2" stroke="#cfd0d8" stroke-width="0.5" fill="none"/>
<polygon points="170.8,236.2 231.0,236.2 236.0,244.7 238.0,260.2 237.0,284.2 235.0,293.2 227.5,297.2 215.5,302.2 204.0,305.7 198.0,304.2 189.5,298.2 180.0,286.2 174.0,276.2 171.0,260.2" fill="#bc9a68" />
<g clip-path="url(#cp20)">
<polygon points="170.8,236.2 231.0,236.2 236.0,244.7 238.0,260.2 237.0,284.2 235.0,293.2 227.5,297.2 215.5,302.2 204.0,305.7 198.0,304.2 189.5,298.2 180.0,286.2 174.0,276.2 171.0,260.2" fill="#df8060" stroke="#bc9a68" stroke-width="3"/>
<g filter="url(#bl1)">
<polygon points="175.4,243.5 227.2,243.5 231.4,250.8 233.2,264.1 232.3,284.8 230.6,292.5 224.1,295.9 213.8,300.2 203.9,303.2 198.8,302.0 191.5,296.8 183.3,286.5 178.1,277.9 175.6,264.1" fill="#d05842" />
<polygon points="180.0,250.8 223.3,250.8 226.9,256.9 228.3,268.0 227.6,285.3 226.2,291.8 220.8,294.7 212.1,298.3 203.9,300.8 199.5,299.7 193.4,295.4 186.6,286.8 182.3,279.6 180.1,268.0" fill="#bf3434" />
<polygon points="187.2,262.2 217.2,262.2 219.8,266.4 220.8,274.2 220.2,286.2 219.2,290.7 215.5,292.7 209.5,295.2 203.8,296.9 200.8,296.2 196.5,293.2 191.8,287.2 188.8,282.2 187.2,274.2" fill="#ad2130" />
</g>
</g>
<path d="M185.5,308.2 L198.5,296.2 L209.5,290.2 L217.5,282.2 L227.5,272.2 L235.5,260.2" stroke="#f0b0b0" stroke-opacity="0.6" stroke-width="0.6" fill="none"/>
<path d="M177.5,272.2 L187.5,266.2 L195.5,258.2 L199.5,248.2 L202.5,236.2" stroke="#f0b0b0" stroke-opacity="0.6" stroke-width="0.6" fill="none"/>
<path d="M193.5,302.2 L205.5,296.2 L221.5,292.2 L229.5,282.2" stroke="#f0b0b0" stroke-opacity="0.42" stroke-width="0.5" fill="none"/>
<polygon points="246.0,271.2 245.0,274.2 242.5,279.2 241.0,283.2 238.0,287.7 235.0,293.7 231.5,296.7 225.5,299.7 222.0,301.7 215.5,305.2 210.5,307.7 206.0,310.2 202.0,313.7 200.0,316.2 199.5,319.7 246.0,319.7" fill="#b5b5b5" stroke="#333"  stroke-width="0.5"/>
<polygon points="240.5,310.2 243.5,308.2 245.0,308.2 245.0,319.7 240.0,319.7" fill="#f2f2f2" stroke="#444" stroke-width="0.4"/>
<line x1="165.5" y1="251.5" x2="246.0" y2="251.5" stroke="#444" stroke-opacity="0.38" stroke-width="0.55"/>
<line x1="165.5" y1="277.7" x2="246.0" y2="277.7" stroke="#444" stroke-opacity="0.38" stroke-width="0.55"/>
<line x1="165.5" y1="303.9" x2="246.0" y2="303.9" stroke="#444" stroke-opacity="0.38" stroke-width="0.55"/>
<line x1="180.7" y1="236.2" x2="180.7" y2="319.7" stroke="#444" stroke-opacity="0.38" stroke-width="0.55"/>
<line x1="196.7" y1="236.2" x2="196.7" y2="319.7" stroke="#444" stroke-opacity="0.38" stroke-width="0.55"/>
<line x1="212.9" y1="236.2" x2="212.9" y2="319.7" stroke="#444" stroke-opacity="0.38" stroke-width="0.55"/>
<line x1="229.6" y1="236.2" x2="229.6" y2="319.7" stroke="#444" stroke-opacity="0.38" stroke-width="0.55"/>
<rect x="172.2" y="313.1" width="19.6" height="2.2" fill="#fff" stroke="#222" stroke-width="0.5"/>
<rect x="172.2" y="313.1" width="4.9" height="1.1" fill="#222"/><rect x="182.0" y="313.1" width="4.9" height="1.1" fill="#222"/>
<rect x="177.1" y="314.2" width="4.9" height="1.1" fill="#222"/><rect x="186.9" y="314.2" width="4.9" height="1.1" fill="#222"/>
<text x="180.0" y="311.79999999999995" class="tiny">km</text>
<text x="171.5" y="318.7" class="tiny">0</text><text x="179.5" y="318.7" class="tiny">500</text><text x="188.5" y="318.7" class="tiny">1000</text>
<text x="200.5" y="317.7" class="tiny2">pso</text>
</g>
<rect x="165.5" y="236.2" width="80.5" height="83.5" fill="none" stroke="#1e1e1e" stroke-width="1"/>
<rect x="246.6" y="236.2" width="4" height="83.5" fill="url(#cb21)" stroke="#333" stroke-width="0.4"/>
<text x="253.0" y="237.3" class="cbt">1</text>
<text x="253.0" y="252.6" class="cbt">0.8</text>
<text x="253.0" y="267.9" class="cbt">0.6</text>
<text x="253.0" y="283.2" class="cbt">0.4</text>
<text x="253.0" y="298.5" class="cbt">0.2</text>
<text x="253.0" y="313.8" class="cbt">0</text>
<text x="164.3" y="253.7" class="ax" text-anchor="end">45°</text>
<text x="164.3" y="279.9" class="ax" text-anchor="end">30°</text>
<text x="164.3" y="306.09999999999997" class="ax" text-anchor="end">15°</text>
<text x="175.5" y="323.9" class="ax" text-anchor="middle">6°</text>
<text x="182.0" y="323.9" class="ax" text-anchor="middle">W</text>
<text x="196.7" y="323.9" class="ax" text-anchor="middle">45°</text>
<text x="212.9" y="323.9" class="ax" text-anchor="middle">30°</text>
<text x="229.6" y="323.9" class="ax" text-anchor="middle">15°</text>
<text x="205.75" y="234.39999999999998" class="ttl" text-anchor="middle">cc</text>
<g clip-path="url(#cr22)">
<rect x="39.5" y="339" width="80.5" height="83.5" fill="#fafafa"/>
<path d="M41.5,419 L117.5,361 M53.5,422.5 L119.5,375 M39.5,399 L69.5,377" stroke="#cfd0d8" stroke-width="0.5" fill="none"/>
<polygon points="45.8,339.0 105.0,339.0 110.0,346.8 111.5,360.0 111.5,385.7 108.0,394.4 100.0,400.0 88.0,406.0 78.0,408.0 70.0,402.0 62.0,392.0 53.0,380.0 47.0,365.0 45.5,345.0" fill="#74382c" />
<g clip-path="url(#cp23)">
<polygon points="45.8,339.0 105.0,339.0 110.0,346.8 111.5,360.0 111.5,385.7 108.0,394.4 100.0,400.0 88.0,406.0 78.0,408.0 70.0,402.0 62.0,392.0 53.0,380.0 47.0,365.0 45.5,345.0" fill="#aa1c2a" stroke="#74382c" stroke-width="4"/>
<rect x="39.5" y="339" width="80.5" height="5.5" fill="#7a4030"/>
<polygon points="55.5,379.0 65.5,370.0 79.5,368.0 95.5,371.0 103.5,379.0 103.5,391.0 95.5,399.0 81.5,405.0 69.5,401.0 61.5,391.0" fill="#7a0e1a"/>
</g>
<path d="M59.5,411 L72.5,399 L83.5,393 L91.5,385 L101.5,375 L109.5,363" stroke="#eaa0a8" stroke-opacity="0.75" stroke-width="0.6" fill="none"/>
<path d="M51.5,375 L61.5,369 L69.5,361 L73.5,351 L76.5,339" stroke="#eaa0a8" stroke-opacity="0.75" stroke-width="0.6" fill="none"/>
<path d="M67.5,405 L79.5,399 L95.5,395 L103.5,385" stroke="#eaa0a8" stroke-opacity="0.5249999999999999" stroke-width="0.5" fill="none"/>
<polygon points="120.0,374.0 119.0,377.0 116.5,382.0 115.0,386.0 112.0,390.5 109.0,396.5 105.5,399.5 99.5,402.5 96.0,404.5 89.5,408.0 84.5,410.5 80.0,413.0 76.0,416.5 74.0,419.0 73.5,422.5 120.0,422.5" fill="#b5b5b5" stroke="#333"  stroke-width="0.5"/>
<polygon points="114.5,413.0 117.5,411.0 119.0,411.0 119.0,422.5 114.0,422.5" fill="#f2f2f2" stroke="#444" stroke-width="0.4"/>
<line x1="39.5" y1="354.3" x2="120.0" y2="354.3" stroke="#444" stroke-opacity="0.38" stroke-width="0.55"/>
<line x1="39.5" y1="380.5" x2="120.0" y2="380.5" stroke="#444" stroke-opacity="0.38" stroke-width="0.55"/>
<line x1="39.5" y1="406.7" x2="120.0" y2="406.7" stroke="#444" stroke-opacity="0.38" stroke-width="0.55"/>
<line x1="54.7" y1="339" x2="54.7" y2="422.5" stroke="#444" stroke-opacity="0.38" stroke-width="0.55"/>
<line x1="70.7" y1="339" x2="70.7" y2="422.5" stroke="#444" stroke-opacity="0.38" stroke-width="0.55"/>
<line x1="86.9" y1="339" x2="86.9" y2="422.5" stroke="#444" stroke-opacity="0.38" stroke-width="0.55"/>
<line x1="103.6" y1="339" x2="103.6" y2="422.5" stroke="#444" stroke-opacity="0.38" stroke-width="0.55"/>
<rect x="46.2" y="415.9" width="19.6" height="2.2" fill="#fff" stroke="#222" stroke-width="0.5"/>
<rect x="46.2" y="415.9" width="4.9" height="1.1" fill="#222"/><rect x="56.0" y="415.9" width="4.9" height="1.1" fill="#222"/>
<rect x="51.1" y="417" width="4.9" height="1.1" fill="#222"/><rect x="60.9" y="417" width="4.9" height="1.1" fill="#222"/>
<text x="54.0" y="414.6" class="tiny">km</text>
<text x="45.5" y="421.5" class="tiny">0</text><text x="53.5" y="421.5" class="tiny">500</text><text x="62.5" y="421.5" class="tiny">1000</text>
<text x="74.5" y="420.5" class="tiny2">pso</text>
</g>
<rect x="39.5" y="339" width="80.5" height="83.5" fill="none" stroke="#1e1e1e" stroke-width="1"/>
<rect x="120.6" y="339" width="4" height="83.5" fill="url(#cb24)" stroke="#333" stroke-width="0.4"/>
<text x="127.0" y="340.5" class="cbt">1</text>
<text x="127.0" y="355.6" class="cbt">0.8</text>
<text x="127.0" y="370.7" class="cbt">0.6</text>
<text x="127.0" y="385.8" class="cbt">0.4</text>
<text x="127.0" y="400.9" class="cbt">0.2</text>
<text x="127.0" y="416.0" class="cbt">0</text>
<text x="38.3" y="356.5" class="ax" text-anchor="end">45°</text>
<text x="38.3" y="382.7" class="ax" text-anchor="end">30°</text>
<text x="38.3" y="408.9" class="ax" text-anchor="end">15°</text>
<text x="49.5" y="426.7" class="ax" text-anchor="middle">6°</text>
<text x="56.0" y="426.7" class="ax" text-anchor="middle">W</text>
<text x="70.7" y="426.7" class="ax" text-anchor="middle">45°</text>
<text x="86.9" y="426.7" class="ax" text-anchor="middle">30°</text>
<text x="103.6" y="426.7" class="ax" text-anchor="middle">15°</text>
<text x="79.75" y="337.2" class="ttl" text-anchor="middle">nvcorr</text>
<g clip-path="url(#cr25)">
<rect x="165.5" y="339" width="80.5" height="83.5" fill="#fafafa"/>
<path d="M167.5,419 L243.5,361 M179.5,422.5 L245.5,375 M165.5,399 L195.5,377" stroke="#cfd0d8" stroke-width="0.5" fill="none"/>
<polygon points="179.3,339.0 210.3,339.0 216.0,343.5 221.1,351.8 225.7,361.5 229.2,371.6 231.3,383.9 232.3,395.1 233.3,398.1 227.2,399.7 219.0,402.2 211.4,406.8 205.3,409.3 199.7,407.8 192.6,402.7 184.4,393.0 177.3,381.8 173.7,372.6 173.2,368.6 175.3,359.4 178.3,349.2 179.3,342.0" fill="#f5ede6" />
<g clip-path="url(#cp26)">
<rect x="165.5" y="339" width="24" height="83.5" fill="#eef2f8"/>
<g clip-path="url(#cp27)" fill="none" stroke-linejoin="round">
<polygon points="179.3,339.0 210.3,339.0 216.0,343.5 221.1,351.8 225.7,361.5 229.2,371.6 231.3,383.9 232.3,395.1 233.3,398.1 227.2,399.7 219.0,402.2 211.4,406.8 205.3,409.3 199.7,407.8 192.6,402.7 184.4,393.0 177.3,381.8 173.7,372.6 173.2,368.6 175.3,359.4 178.3,349.2 179.3,342.0" stroke="#e2ecf6" stroke-width="25.3"/>
<polygon points="179.3,339.0 210.3,339.0 216.0,343.5 221.1,351.8 225.7,361.5 229.2,371.6 231.3,383.9 232.3,395.1 233.3,398.1 227.2,399.7 219.0,402.2 211.4,406.8 205.3,409.3 199.7,407.8 192.6,402.7 184.4,393.0 177.3,381.8 173.7,372.6 173.2,368.6 175.3,359.4 178.3,349.2 179.3,342.0" stroke="#bcd2ec" stroke-width="17.2"/>
<polygon points="179.3,339.0 210.3,339.0 216.0,343.5 221.1,351.8 225.7,361.5 229.2,371.6 231.3,383.9 232.3,395.1 233.3,398.1 227.2,399.7 219.0,402.2 211.4,406.8 205.3,409.3 199.7,407.8 192.6,402.7 184.4,393.0 177.3,381.8 173.7,372.6 173.2,368.6 175.3,359.4 178.3,349.2 179.3,342.0" stroke="#8aaadc" stroke-width="11.5"/>
<polygon points="179.3,339.0 210.3,339.0 216.0,343.5 221.1,351.8 225.7,361.5 229.2,371.6 231.3,383.9 232.3,395.1 233.3,398.1 227.2,399.7 219.0,402.2 211.4,406.8 205.3,409.3 199.7,407.8 192.6,402.7 184.4,393.0 177.3,381.8 173.7,372.6 173.2,368.6 175.3,359.4 178.3,349.2 179.3,342.0" stroke="#5a7ec4" stroke-width="6.9"/>
<polygon points="179.3,339.0 210.3,339.0 216.0,343.5 221.1,351.8 225.7,361.5 229.2,371.6 231.3,383.9 232.3,395.1 233.3,398.1 227.2,399.7 219.0,402.2 211.4,406.8 205.3,409.3 199.7,407.8 192.6,402.7 184.4,393.0 177.3,381.8 173.7,372.6 173.2,368.6 175.3,359.4 178.3,349.2 179.3,342.0" stroke="#34509e" stroke-width="3.4"/>
</g>
<g clip-path="url(#cr28)" fill="none" stroke-linejoin="round">
<polygon points="179.3,339.0 210.3,339.0 216.0,343.5 221.1,351.8 225.7,361.5 229.2,371.6 231.3,383.9 232.3,395.1 233.3,398.1 227.2,399.7 219.0,402.2 211.4,406.8 205.3,409.3 199.7,407.8 192.6,402.7 184.4,393.0 177.3,381.8 173.7,372.6 173.2,368.6 175.3,359.4 178.3,349.2 179.3,342.0" stroke="#f4e2d6" stroke-width="28.9"/>
<polygon points="179.3,339.0 210.3,339.0 216.0,343.5 221.1,351.8 225.7,361.5 229.2,371.6 231.3,383.9 232.3,395.1 233.3,398.1 227.2,399.7 219.0,402.2 211.4,406.8 205.3,409.3 199.7,407.8 192.6,402.7 184.4,393.0 177.3,381.8 173.7,372.6 173.2,368.6 175.3,359.4 178.3,349.2 179.3,342.0" stroke="#efc6b2" stroke-width="18.7"/>
<polygon points="179.3,339.0 210.3,339.0 216.0,343.5 221.1,351.8 225.7,361.5 229.2,371.6 231.3,383.9 232.3,395.1 233.3,398.1 227.2,399.7 219.0,402.2 211.4,406.8 205.3,409.3 199.7,407.8 192.6,402.7 184.4,393.0 177.3,381.8 173.7,372.6 173.2,368.6 175.3,359.4 178.3,349.2 179.3,342.0" stroke="#e29c82" stroke-width="11.9"/>
<polygon points="179.3,339.0 210.3,339.0 216.0,343.5 221.1,351.8 225.7,361.5 229.2,371.6 231.3,383.9 232.3,395.1 233.3,398.1 227.2,399.7 219.0,402.2 211.4,406.8 205.3,409.3 199.7,407.8 192.6,402.7 184.4,393.0 177.3,381.8 173.7,372.6 173.2,368.6 175.3,359.4 178.3,349.2 179.3,342.0" stroke="#c4644c" stroke-width="7.1"/>
<polygon points="179.3,339.0 210.3,339.0 216.0,343.5 221.1,351.8 225.7,361.5 229.2,371.6 231.3,383.9 232.3,395.1 233.3,398.1 227.2,399.7 219.0,402.2 211.4,406.8 205.3,409.3 199.7,407.8 192.6,402.7 184.4,393.0 177.3,381.8 173.7,372.6 173.2,368.6 175.3,359.4 178.3,349.2 179.3,342.0" stroke="#883222" stroke-width="3.7"/>
</g>
</g>
<polygon points="246.0,374.0 245.0,377.0 242.5,382.0 241.0,386.0 238.0,390.5 235.0,396.5 231.5,399.5 225.5,402.5 222.0,404.5 215.5,408.0 210.5,410.5 206.0,413.0 202.0,416.5 200.0,419.0 199.5,422.5 246.0,422.5" fill="#b5b5b5" stroke="#333"  stroke-width="0.5"/>
<polygon points="240.5,413.0 243.5,411.0 245.0,411.0 245.0,422.5 240.0,422.5" fill="#f2f2f2" stroke="#444" stroke-width="0.4"/>
<line x1="165.5" y1="354.3" x2="246.0" y2="354.3" stroke="#444" stroke-opacity="0.38" stroke-width="0.55"/>
<line x1="165.5" y1="380.5" x2="246.0" y2="380.5" stroke="#444" stroke-opacity="0.38" stroke-width="0.55"/>
<line x1="165.5" y1="406.7" x2="246.0" y2="406.7" stroke="#444" stroke-opacity="0.38" stroke-width="0.55"/>
<line x1="180.7" y1="339" x2="180.7" y2="422.5" stroke="#444" stroke-opacity="0.38" stroke-width="0.55"/>
<line x1="196.7" y1="339" x2="196.7" y2="422.5" stroke="#444" stroke-opacity="0.38" stroke-width="0.55"/>
<line x1="212.9" y1="339" x2="212.9" y2="422.5" stroke="#444" stroke-opacity="0.38" stroke-width="0.55"/>
<line x1="229.6" y1="339" x2="229.6" y2="422.5" stroke="#444" stroke-opacity="0.38" stroke-width="0.55"/>
<rect x="172.2" y="415.9" width="19.6" height="2.2" fill="#fff" stroke="#222" stroke-width="0.5"/>
<rect x="172.2" y="415.9" width="4.9" height="1.1" fill="#222"/><rect x="182.0" y="415.9" width="4.9" height="1.1" fill="#222"/>
<rect x="177.1" y="417" width="4.9" height="1.1" fill="#222"/><rect x="186.9" y="417" width="4.9" height="1.1" fill="#222"/>
<text x="180.0" y="414.6" class="tiny">km</text>
<text x="171.5" y="421.5" class="tiny">0</text><text x="179.5" y="421.5" class="tiny">500</text><text x="188.5" y="421.5" class="tiny">1000</text>
<text x="200.5" y="420.5" class="tiny2">pso</text>
</g>
<rect x="165.5" y="339" width="80.5" height="83.5" fill="none" stroke="#1e1e1e" stroke-width="1"/>
<rect x="246.6" y="339" width="4" height="83.5" fill="url(#cb29)" stroke="#333" stroke-width="0.4"/>
<text x="253.0" y="348.7" class="cbt">20</text>
<text x="253.0" y="365.2" class="cbt">10</text>
<text x="253.0" y="381.7" class="cbt">0</text>
<text x="253.0" y="398.2" class="cbt">-10</text>
<text x="253.0" y="414.7" class="cbt">-20</text>
<text x="164.3" y="356.5" class="ax" text-anchor="end">45°</text>
<text x="164.3" y="382.7" class="ax" text-anchor="end">30°</text>
<text x="164.3" y="408.9" class="ax" text-anchor="end">15°</text>
<text x="175.5" y="426.7" class="ax" text-anchor="middle">6°</text>
<text x="182.0" y="426.7" class="ax" text-anchor="middle">W</text>
<text x="196.7" y="426.7" class="ax" text-anchor="middle">45°</text>
<text x="212.9" y="426.7" class="ax" text-anchor="middle">30°</text>
<text x="229.6" y="426.7" class="ax" text-anchor="middle">15°</text>
<text x="205.75" y="337.2" class="ttl" text-anchor="middle">npnase</text>
<text x="139.5" y="118" class="ptl" text-anchor="middle">whc svr Wind Speed statistics</text>
<g clip-path="url(#cr30)">
<rect x="308.5" y="11" width="80.5" height="83.5" fill="#fafafa"/>
<path d="M310.5,91 L386.5,33 M322.5,94.5 L388.5,47 M308.5,71 L338.5,49" stroke="#cfd0d8" stroke-width="0.5" fill="none"/>
<polygon points="314.3,11.0 375.4,11.0 380.0,20.2 381.0,40.0 380.5,60.0 378.0,70.1 372.3,73.2 360.0,76.0 349.9,80.3 345.0,81.5 339.7,80.3 333.0,76.0 325.5,69.1 320.0,60.0 317.3,53.8 314.0,40.0 313.0,25.0" fill="#844a30" />
<g clip-path="url(#cp31)">
<polygon points="314.3,11.0 375.4,11.0 380.0,20.2 381.0,40.0 380.5,60.0 378.0,70.1 372.3,73.2 360.0,76.0 349.9,80.3 345.0,81.5 339.7,80.3 333.0,76.0 325.5,69.1 320.0,60.0 317.3,53.8 314.0,40.0 313.0,25.0" fill="#b0222e" stroke="#844a30" stroke-width="4"/>
<rect x="308.5" y="11" width="80.5" height="5.5" fill="#7a4630"/>
<polygon points="320.5,56.0 326.5,48.0 336.5,43.0 346.5,41.5 358.5,42.0 366.5,46.0 370.5,53.0 370.5,63.0 366.5,71.0 356.5,76.0 346.5,79.0 336.5,77.0 328.5,71.0 322.5,63.0" fill="#800f1c"/>
</g>
<path d="M328.5,83 L341.5,71 L352.5,65 L360.5,57 L370.5,47 L378.5,35" stroke="#eaa0a8" stroke-opacity="0.75" stroke-width="0.6" fill="none"/>
<path d="M320.5,47 L330.5,41 L338.5,33 L342.5,23 L345.5,11" stroke="#eaa0a8" stroke-opacity="0.75" stroke-width="0.6" fill="none"/>
<path d="M336.5,77 L348.5,71 L364.5,67 L372.5,57" stroke="#eaa0a8" stroke-opacity="0.5249999999999999" stroke-width="0.5" fill="none"/>
<polygon points="389.0,46.0 388.0,49.0 385.5,54.0 384.0,58.0 381.0,62.5 378.0,68.5 374.5,71.5 368.5,74.5 365.0,76.5 358.5,80.0 353.5,82.5 349.0,85.0 345.0,88.5 343.0,91.0 342.5,94.5 389.0,94.5" fill="#b5b5b5" stroke="#333"  stroke-width="0.5"/>
<polygon points="383.5,85.0 386.5,83.0 388.0,83.0 388.0,94.5 383.0,94.5" fill="#f2f2f2" stroke="#444" stroke-width="0.4"/>
<line x1="308.5" y1="26.3" x2="389.0" y2="26.3" stroke="#444" stroke-opacity="0.38" stroke-width="0.55"/>
<line x1="308.5" y1="52.5" x2="389.0" y2="52.5" stroke="#444" stroke-opacity="0.38" stroke-width="0.55"/>
<line x1="308.5" y1="78.7" x2="389.0" y2="78.7" stroke="#444" stroke-opacity="0.38" stroke-width="0.55"/>
<line x1="323.7" y1="11" x2="323.7" y2="94.5" stroke="#444" stroke-opacity="0.38" stroke-width="0.55"/>
<line x1="339.7" y1="11" x2="339.7" y2="94.5" stroke="#444" stroke-opacity="0.38" stroke-width="0.55"/>
<line x1="355.9" y1="11" x2="355.9" y2="94.5" stroke="#444" stroke-opacity="0.38" stroke-width="0.55"/>
<line x1="372.6" y1="11" x2="372.6" y2="94.5" stroke="#444" stroke-opacity="0.38" stroke-width="0.55"/>
<rect x="315.2" y="87.9" width="19.6" height="2.2" fill="#fff" stroke="#222" stroke-width="0.5"/>
<rect x="315.2" y="87.9" width="4.9" height="1.1" fill="#222"/><rect x="325.0" y="87.9" width="4.9" height="1.1" fill="#222"/>
<rect x="320.1" y="89" width="4.9" height="1.1" fill="#222"/><rect x="329.9" y="89" width="4.9" height="1.1" fill="#222"/>
<text x="323.0" y="86.6" class="tiny">km</text>
<text x="314.5" y="93.5" class="tiny">0</text><text x="322.5" y="93.5" class="tiny">500</text><text x="331.5" y="93.5" class="tiny">1000</text>
<text x="343.5" y="92.5" class="tiny2">pso</text>
</g>
<rect x="308.5" y="11" width="80.5" height="83.5" fill="none" stroke="#1e1e1e" stroke-width="1"/>
<rect x="389.6" y="11" width="4" height="83.5" fill="url(#cb32)" stroke="#333" stroke-width="0.4"/>
<text x="396.0" y="12.5" class="cbt">1</text>
<text x="396.0" y="27.6" class="cbt">0.8</text>
<text x="396.0" y="42.7" class="cbt">0.6</text>
<text x="396.0" y="57.8" class="cbt">0.4</text>
<text x="396.0" y="72.9" class="cbt">0.2</text>
<text x="396.0" y="88.0" class="cbt">0</text>
<text x="307.3" y="28.5" class="ax" text-anchor="end">45°</text>
<text x="307.3" y="54.7" class="ax" text-anchor="end">30°</text>
<text x="307.3" y="80.9" class="ax" text-anchor="end">15°</text>
<text x="318.5" y="98.7" class="ax" text-anchor="middle">6°</text>
<text x="325.0" y="98.7" class="ax" text-anchor="middle">W</text>
<text x="339.7" y="98.7" class="ax" text-anchor="middle">45°</text>
<text x="355.9" y="98.7" class="ax" text-anchor="middle">30°</text>
<text x="372.6" y="98.7" class="ax" text-anchor="middle">15°</text>
<text x="348.75" y="9.2" class="ttl" text-anchor="middle">nvcorr</text>
<g clip-path="url(#cr33)">
<rect x="434.5" y="11" width="80.5" height="83.5" fill="#fafafa"/>
<path d="M436.5,91 L512.5,33 M448.5,94.5 L514.5,47 M434.5,71 L464.5,49" stroke="#cfd0d8" stroke-width="0.5" fill="none"/>
<polygon points="450.5,15.0 458.5,12.2 480.0,12.0 487.0,17.2 492.2,25.0 496.3,40.6 499.3,54.8 500.0,68.0 497.0,70.0 485.0,74.2 472.8,79.3 470.0,80.0 461.6,81.3 454.5,76.2 448.4,67.0 443.3,54.8 441.0,45.0 441.3,39.6 446.4,32.4 450.4,25.3 451.0,18.0" fill="#f5ede6" />
<g clip-path="url(#cp34)">
<rect x="434.5" y="11" width="27" height="83.5" fill="#eef2f8"/>
<g clip-path="url(#cp35)" fill="none" stroke-linejoin="round">
<polygon points="450.5,15.0 458.5,12.2 480.0,12.0 487.0,17.2 492.2,25.0 496.3,40.6 499.3,54.8 500.0,68.0 497.0,70.0 485.0,74.2 472.8,79.3 470.0,80.0 461.6,81.3 454.5,76.2 448.4,67.0 443.3,54.8 441.0,45.0 441.3,39.6 446.4,32.4 450.4,25.3 451.0,18.0" stroke="#e2ecf6" stroke-width="29.7"/>
<polygon points="450.5,15.0 458.5,12.2 480.0,12.0 487.0,17.2 492.2,25.0 496.3,40.6 499.3,54.8 500.0,68.0 497.0,70.0 485.0,74.2 472.8,79.3 470.0,80.0 461.6,81.3 454.5,76.2 448.4,67.0 443.3,54.8 441.0,45.0 441.3,39.6 446.4,32.4 450.4,25.3 451.0,18.0" stroke="#bcd2ec" stroke-width="20.2"/>
<polygon points="450.5,15.0 458.5,12.2 480.0,12.0 487.0,17.2 492.2,25.0 496.3,40.6 499.3,54.8 500.0,68.0 497.0,70.0 485.0,74.2 472.8,79.3 470.0,80.0 461.6,81.3 454.5,76.2 448.4,67.0 443.3,54.8 441.0,45.0 441.3,39.6 446.4,32.4 450.4,25.3 451.0,18.0" stroke="#8aaadc" stroke-width="13.5"/>
<polygon points="450.5,15.0 458.5,12.2 480.0,12.0 487.0,17.2 492.2,25.0 496.3,40.6 499.3,54.8 500.0,68.0 497.0,70.0 485.0,74.2 472.8,79.3 470.0,80.0 461.6,81.3 454.5,76.2 448.4,67.0 443.3,54.8 441.0,45.0 441.3,39.6 446.4,32.4 450.4,25.3 451.0,18.0" stroke="#5a7ec4" stroke-width="8.1"/>
<polygon points="450.5,15.0 458.5,12.2 480.0,12.0 487.0,17.2 492.2,25.0 496.3,40.6 499.3,54.8 500.0,68.0 497.0,70.0 485.0,74.2 472.8,79.3 470.0,80.0 461.6,81.3 454.5,76.2 448.4,67.0 443.3,54.8 441.0,45.0 441.3,39.6 446.4,32.4 450.4,25.3 451.0,18.0" stroke="#34509e" stroke-width="4.1"/>
</g>
<g clip-path="url(#cr36)" fill="none" stroke-linejoin="round">
<polygon points="450.5,15.0 458.5,12.2 480.0,12.0 487.0,17.2 492.2,25.0 496.3,40.6 499.3,54.8 500.0,68.0 497.0,70.0 485.0,74.2 472.8,79.3 470.0,80.0 461.6,81.3 454.5,76.2 448.4,67.0 443.3,54.8 441.0,45.0 441.3,39.6 446.4,32.4 450.4,25.3 451.0,18.0" stroke="#f4e2d6" stroke-width="17.0"/>
<polygon points="450.5,15.0 458.5,12.2 480.0,12.0 487.0,17.2 492.2,25.0 496.3,40.6 499.3,54.8 500.0,68.0 497.0,70.0 485.0,74.2 472.8,79.3 470.0,80.0 461.6,81.3 454.5,76.2 448.4,67.0 443.3,54.8 441.0,45.0 441.3,39.6 446.4,32.4 450.4,25.3 451.0,18.0" stroke="#efc6b2" stroke-width="11.0"/>
<polygon points="450.5,15.0 458.5,12.2 480.0,12.0 487.0,17.2 492.2,25.0 496.3,40.6 499.3,54.8 500.0,68.0 497.0,70.0 485.0,74.2 472.8,79.3 470.0,80.0 461.6,81.3 454.5,76.2 448.4,67.0 443.3,54.8 441.0,45.0 441.3,39.6 446.4,32.4 450.4,25.3 451.0,18.0" stroke="#e29c82" stroke-width="7.0"/>
<polygon points="450.5,15.0 458.5,12.2 480.0,12.0 487.0,17.2 492.2,25.0 496.3,40.6 499.3,54.8 500.0,68.0 497.0,70.0 485.0,74.2 472.8,79.3 470.0,80.0 461.6,81.3 454.5,76.2 448.4,67.0 443.3,54.8 441.0,45.0 441.3,39.6 446.4,32.4 450.4,25.3 451.0,18.0" stroke="#c4644c" stroke-width="4.2"/>
<polygon points="450.5,15.0 458.5,12.2 480.0,12.0 487.0,17.2 492.2,25.0 496.3,40.6 499.3,54.8 500.0,68.0 497.0,70.0 485.0,74.2 472.8,79.3 470.0,80.0 461.6,81.3 454.5,76.2 448.4,67.0 443.3,54.8 441.0,45.0 441.3,39.6 446.4,32.4 450.4,25.3 451.0,18.0" stroke="#883222" stroke-width="2.2"/>
</g>
</g>
<polygon points="515.0,46.0 514.0,49.0 511.5,54.0 510.0,58.0 507.0,62.5 504.0,68.5 500.5,71.5 494.5,74.5 491.0,76.5 484.5,80.0 479.5,82.5 475.0,85.0 471.0,88.5 469.0,91.0 468.5,94.5 515.0,94.5" fill="#b5b5b5" stroke="#333"  stroke-width="0.5"/>
<polygon points="509.5,85.0 512.5,83.0 514.0,83.0 514.0,94.5 509.0,94.5" fill="#f2f2f2" stroke="#444" stroke-width="0.4"/>
<line x1="434.5" y1="26.3" x2="515.0" y2="26.3" stroke="#444" stroke-opacity="0.38" stroke-width="0.55"/>
<line x1="434.5" y1="52.5" x2="515.0" y2="52.5" stroke="#444" stroke-opacity="0.38" stroke-width="0.55"/>
<line x1="434.5" y1="78.7" x2="515.0" y2="78.7" stroke="#444" stroke-opacity="0.38" stroke-width="0.55"/>
<line x1="449.7" y1="11" x2="449.7" y2="94.5" stroke="#444" stroke-opacity="0.38" stroke-width="0.55"/>
<line x1="465.7" y1="11" x2="465.7" y2="94.5" stroke="#444" stroke-opacity="0.38" stroke-width="0.55"/>
<line x1="481.9" y1="11" x2="481.9" y2="94.5" stroke="#444" stroke-opacity="0.38" stroke-width="0.55"/>
<line x1="498.6" y1="11" x2="498.6" y2="94.5" stroke="#444" stroke-opacity="0.38" stroke-width="0.55"/>
<rect x="441.2" y="87.9" width="19.6" height="2.2" fill="#fff" stroke="#222" stroke-width="0.5"/>
<rect x="441.2" y="87.9" width="4.9" height="1.1" fill="#222"/><rect x="451.0" y="87.9" width="4.9" height="1.1" fill="#222"/>
<rect x="446.1" y="89" width="4.9" height="1.1" fill="#222"/><rect x="455.9" y="89" width="4.9" height="1.1" fill="#222"/>
<text x="449.0" y="86.6" class="tiny">km</text>
<text x="440.5" y="93.5" class="tiny">0</text><text x="448.5" y="93.5" class="tiny">500</text><text x="457.5" y="93.5" class="tiny">1000</text>
<text x="469.5" y="92.5" class="tiny2">pso</text>
</g>
<rect x="434.5" y="11" width="80.5" height="83.5" fill="none" stroke="#1e1e1e" stroke-width="1"/>
<rect x="515.6" y="11" width="4" height="83.5" fill="url(#cb37)" stroke="#333" stroke-width="0.4"/>
<text x="522.0" y="20.7" class="cbt">20</text>
<text x="522.0" y="37.2" class="cbt">10</text>
<text x="522.0" y="53.7" class="cbt">0</text>
<text x="522.0" y="70.2" class="cbt">-10</text>
<text x="522.0" y="86.7" class="cbt">-20</text>
<text x="433.3" y="28.5" class="ax" text-anchor="end">45°</text>
<text x="433.3" y="54.7" class="ax" text-anchor="end">30°</text>
<text x="433.3" y="80.9" class="ax" text-anchor="end">15°</text>
<text x="444.5" y="98.7" class="ax" text-anchor="middle">6°</text>
<text x="451.0" y="98.7" class="ax" text-anchor="middle">W</text>
<text x="465.7" y="98.7" class="ax" text-anchor="middle">45°</text>
<text x="481.9" y="98.7" class="ax" text-anchor="middle">30°</text>
<text x="498.6" y="98.7" class="ax" text-anchor="middle">15°</text>
<text x="474.75" y="9.2" class="ttl" text-anchor="middle">npnase</text>
<g clip-path="url(#cr38)">
<rect x="308.5" y="136.5" width="80.5" height="83.5" fill="#fafafa"/>
<path d="M310.5,216.5 L386.5,158.5 M322.5,220.0 L388.5,172.5 M308.5,196.5 L338.5,174.5" stroke="#cfd0d8" stroke-width="0.5" fill="none"/>
<polygon points="313.0,136.5 384.5,136.5 384.5,154.5 380.5,154.5 370.5,146.5 328.5,144.5 313.0,154.5" fill="url(#lg39)"/>
<polygon points="322.5,145.5 328.5,143.0 367.5,143.0 377.5,151.5 381.0,154.5 381.0,182.5 361.5,203.5 338.5,204.5 314.0,176.5 313.0,154.5" fill="url(#rg40)" />
<rect x="343.5" y="160.5" width="8.5" height="14" fill="#b02838" opacity="0.7"/>
<rect x="343.5" y="184.5" width="8" height="18" fill="#a82838" opacity="0.5"/>
<circle cx="311.5" cy="139.7" r="1.55" fill="#5646bc" fill-opacity="0.85"/>
<circle cx="316.6" cy="139.7" r="1.55" fill="#5646bc" fill-opacity="0.85"/>
<circle cx="321.7" cy="139.7" r="1.6" fill="#120808"/>
<circle cx="326.8" cy="139.7" r="1.55" fill="#5646bc" fill-opacity="0.85"/>
<circle cx="331.9" cy="139.7" r="1.55" fill="#5646bc" fill-opacity="0.85"/>
<circle cx="337.0" cy="139.7" r="1.6" fill="#120808"/>
<circle cx="342.1" cy="139.7" r="1.55" fill="#5646bc" fill-opacity="0.85"/>
<circle cx="347.2" cy="139.7" r="1.55" fill="#5646bc" fill-opacity="0.85"/>
<circle cx="352.3" cy="139.7" r="1.55" fill="#5646bc" fill-opacity="0.85"/>
<circle cx="357.4" cy="139.7" r="1.55" fill="#5646bc" fill-opacity="0.85"/>
<circle cx="362.5" cy="139.7" r="1.6" fill="#120808"/>
<circle cx="367.6" cy="139.7" r="1.55" fill="#5646bc" fill-opacity="0.85"/>
<circle cx="372.7" cy="139.7" r="1.55" fill="#5646bc" fill-opacity="0.85"/>
<circle cx="377.8" cy="139.7" r="1.55" fill="#5646bc" fill-opacity="0.85"/>
<circle cx="382.9" cy="139.7" r="1.55" fill="#5646bc" fill-opacity="0.85"/>
<circle cx="311.5" cy="144.8" r="1.55" fill="#5646bc" fill-opacity="0.85"/>
<circle cx="316.6" cy="144.8" r="1.55" fill="#5646bc" fill-opacity="0.85"/>
<circle cx="321.7" cy="144.8" r="1.55" fill="#5646bc" fill-opacity="0.85"/>
<circle cx="326.8" cy="144.8" r="1.55" fill="#5646bc" fill-opacity="0.85"/>
<circle cx="331.9" cy="144.8" r="1.55" fill="#5646bc" fill-opacity="0.85"/>
<circle cx="337.0" cy="144.8" r="1.55" fill="#5646bc" fill-opacity="0.85"/>
<circle cx="342.1" cy="144.8" r="1.55" fill="#5646bc" fill-opacity="0.85"/>
<circle cx="347.2" cy="144.8" r="1.55" fill="#5646bc" fill-opacity="0.85"/>
<circle cx="352.3" cy="144.8" r="1.55" fill="#5646bc" fill-opacity="0.85"/>
<circle cx="357.4" cy="144.8" r="1.55" fill="#5646bc" fill-opacity="0.85"/>
<circle cx="362.5" cy="144.8" r="1.55" fill="#5646bc" fill-opacity="0.85"/>
<circle cx="367.6" cy="144.8" r="1.55" fill="#5646bc" fill-opacity="0.85"/>
<circle cx="372.7" cy="144.8" r="1.55" fill="#5646bc" fill-opacity="0.85"/>
<circle cx="377.8" cy="144.8" r="1.55" fill="#5646bc" fill-opacity="0.85"/>
<circle cx="382.9" cy="144.8" r="1.55" fill="#5646bc" fill-opacity="0.85"/>
<circle cx="311.5" cy="149.9" r="1.55" fill="#5646bc" fill-opacity="0.85"/>
<circle cx="316.6" cy="149.9" r="1.55" fill="#5646bc" fill-opacity="0.85"/>
<circle cx="321.7" cy="149.9" r="1.55" fill="#5646bc" fill-opacity="0.85"/>
<circle cx="326.8" cy="149.9" r="1.55" fill="#5646bc" fill-opacity="0.85"/>
<circle cx="331.9" cy="149.9" r="1.55" fill="#5646bc" fill-opacity="0.85"/>
<circle cx="337.0" cy="149.9" r="1.55" fill="#5646bc" fill-opacity="0.85"/>
<circle cx="342.1" cy="149.9" r="1.55" fill="#5646bc" fill-opacity="0.85"/>
<circle cx="347.2" cy="149.9" r="1.6" fill="#120808"/>
<circle cx="352.3" cy="149.9" r="1.55" fill="#5646bc" fill-opacity="0.85"/>
<circle cx="357.4" cy="149.9" r="1.55" fill="#5646bc" fill-opacity="0.85"/>
<circle cx="362.5" cy="149.9" r="1.55" fill="#5646bc" fill-opacity="0.85"/>
<circle cx="367.6" cy="149.9" r="1.55" fill="#5646bc" fill-opacity="0.85"/>
<circle cx="372.7" cy="149.9" r="1.6" fill="#120808"/>
<circle cx="377.8" cy="149.9" r="1.55" fill="#5646bc" fill-opacity="0.85"/>
<circle cx="382.9" cy="149.9" r="1.55" fill="#5646bc" fill-opacity="0.85"/>
<circle cx="311.5" cy="155.0" r="1.6" fill="#120808"/>
<circle cx="316.6" cy="155.0" r="1.55" fill="#5646bc" fill-opacity="0.85"/>
<circle cx="321.7" cy="155.0" r="1.55" fill="#5646bc" fill-opacity="0.85"/>
<circle cx="326.8" cy="155.0" r="1.55" fill="#5646bc" fill-opacity="0.85"/>
<circle cx="331.9" cy="155.0" r="1.55" fill="#5646bc" fill-opacity="0.85"/>
<circle cx="337.0" cy="155.0" r="1.55" fill="#5646bc" fill-opacity="0.85"/>
<circle cx="342.1" cy="155.0" r="1.55" fill="#5646bc" fill-opacity="0.85"/>
<circle cx="347.2" cy="155.0" r="1.55" fill="#5646bc" fill-opacity="0.85"/>
<circle cx="352.3" cy="155.0" r="1.55" fill="#5646bc" fill-opacity="0.85"/>
<circle cx="357.4" cy="155.0" r="1.55" fill="#5646bc" fill-opacity="0.85"/>
<circle cx="362.5" cy="155.0" r="1.55" fill="#5646bc" fill-opacity="0.85"/>
<circle cx="367.6" cy="155.0" r="1.55" fill="#5646bc" fill-opacity="0.85"/>
<circle cx="372.7" cy="155.0" r="1.55" fill="#5646bc" fill-opacity="0.85"/>
<circle cx="377.8" cy="155.0" r="1.55" fill="#5646bc" fill-opacity="0.85"/>
<circle cx="382.9" cy="155.0" r="1.55" fill="#5646bc" fill-opacity="0.85"/>
<circle cx="311.5" cy="160.1" r="1.55" fill="#5646bc" fill-opacity="0.85"/>
<circle cx="316.6" cy="160.1" r="1.55" fill="#5646bc" fill-opacity="0.85"/>
<circle cx="321.7" cy="160.1" r="1.55" fill="#5646bc" fill-opacity="0.85"/>
<circle cx="326.8" cy="160.1" r="1.55" fill="#5646bc" fill-opacity="0.85"/>
<circle cx="331.9" cy="160.1" r="1.6" fill="#120808"/>
<circle cx="337.0" cy="160.1" r="1.55" fill="#5646bc" fill-opacity="0.85"/>
<circle cx="342.1" cy="160.1" r="1.55" fill="#5646bc" fill-opacity="0.85"/>
<circle cx="347.2" cy="160.1" r="1.55" fill="#5646bc" fill-opacity="0.85"/>
<circle cx="352.3" cy="160.1" r="1.55" fill="#5646bc" fill-opacity="0.85"/>
<circle cx="357.4" cy="160.1" r="1.6" fill="#120808"/>
<circle cx="362.5" cy="160.1" r="1.55" fill="#5646bc" fill-opacity="0.85"/>
<circle cx="367.6" cy="160.1" r="1.55" fill="#5646bc" fill-opacity="0.85"/>
<circle cx="372.7" cy="160.1" r="1.55" fill="#5646bc" fill-opacity="0.85"/>
<circle cx="377.8" cy="160.1" r="1.55" fill="#5646bc" fill-opacity="0.85"/>
<circle cx="382.9" cy="160.1" r="1.55" fill="#5646bc" fill-opacity="0.85"/>
<circle cx="311.5" cy="165.2" r="1.55" fill="#5646bc" fill-opacity="0.85"/>
<circle cx="316.6" cy="165.2" r="1.55" fill="#5646bc" fill-opacity="0.85"/>
<circle cx="321.7" cy="165.2" r="1.55" fill="#5646bc" fill-opacity="0.85"/>
<circle cx="326.8" cy="165.2" r="1.55" fill="#5646bc" fill-opacity="0.85"/>
<circle cx="331.9" cy="165.2" r="1.55" fill="#5646bc" fill-opacity="0.85"/>
<circle cx="337.0" cy="165.2" r="1.55" fill="#5646bc" fill-opacity="0.85"/>
<circle cx="342.1" cy="165.2" r="1.55" fill="#5646bc" fill-opacity="0.85"/>
<circle cx="347.2" cy="165.2" r="1.55" fill="#5646bc" fill-opacity="0.85"/>
<circle cx="352.3" cy="165.2" r="1.55" fill="#5646bc" fill-opacity="0.85"/>
<circle cx="357.4" cy="165.2" r="1.55" fill="#5646bc" fill-opacity="0.85"/>
<circle cx="362.5" cy="165.2" r="1.55" fill="#5646bc" fill-opacity="0.85"/>
<circle cx="367.6" cy="165.2" r="1.55" fill="#5646bc" fill-opacity="0.85"/>
<circle cx="372.7" cy="165.2" r="1.55" fill="#5646bc" fill-opacity="0.85"/>
<circle cx="377.8" cy="165.2" r="1.55" fill="#5646bc" fill-opacity="0.85"/>
<circle cx="382.9" cy="165.2" r="1.55" fill="#5646bc" fill-opacity="0.85"/>
<circle cx="311.5" cy="170.3" r="1.55" fill="#5646bc" fill-opacity="0.85"/>
<circle cx="316.6" cy="170.3" r="1.55" fill="#5646bc" fill-opacity="0.85"/>
<circle cx="321.7" cy="170.3" r="1.55" fill="#5646bc" fill-opacity="0.85"/>
<circle cx="326.8" cy="170.3" r="1.55" fill="#5646bc" fill-opacity="0.85"/>
<circle cx="331.9" cy="170.3" r="1.55" fill="#5646bc" fill-opacity="0.85"/>
<circle cx="337.0" cy="170.3" r="1.55" fill="#5646bc" fill-opacity="0.85"/>
<circle cx="342.1" cy="170.3" r="1.55" fill="#5646bc" fill-opacity="0.85"/>
<circle cx="347.2" cy="170.3" r="1.55" fill="#5646bc" fill-opacity="0.85"/>
<circle cx="352.3" cy="170.3" r="1.55" fill="#5646bc" fill-opacity="0.85"/>
<circle cx="357.4" cy="170.3" r="1.55" fill="#5646bc" fill-opacity="0.85"/>
<circle cx="362.5" cy="170.3" r="1.55" fill="#5646bc" fill-opacity="0.85"/>
<circle cx="367.6" cy="170.3" r="1.55" fill="#5646bc" fill-opacity="0.85"/>
<circle cx="372.7" cy="170.3" r="1.55" fill="#5646bc" fill-opacity="0.85"/>
<circle cx="377.8" cy="170.3" r="1.55" fill="#5646bc" fill-opacity="0.85"/>
<circle cx="382.9" cy="170.3" r="1.55" fill="#5646bc" fill-opacity="0.85"/>
<circle cx="311.5" cy="175.4" r="1.55" fill="#5646bc" fill-opacity="0.85"/>
<circle cx="316.6" cy="175.4" r="1.6" fill="#120808"/>
<circle cx="321.7" cy="175.4" r="1.55" fill="#5646bc" fill-opacity="0.85"/>
<circle cx="326.8" cy="175.4" r="1.55" fill="#5646bc" fill-opacity="0.85"/>
<circle cx="331.9" cy="175.4" r="1.55" fill="#5646bc" fill-opacity="0.85"/>
<circle cx="337.0" cy="175.4" r="1.55" fill="#5646bc" fill-opacity="0.85"/>
<circle cx="342.1" cy="175.4" r="1.6" fill="#120808"/>
<circle cx="347.2" cy="175.4" r="1.55" fill="#5646bc" fill-opacity="0.85"/>
<circle cx="352.3" cy="175.4" r="1.55" fill="#5646bc" fill-opacity="0.85"/>
<circle cx="357.4" cy="175.4" r="1.55" fill="#5646bc" fill-opacity="0.85"/>
<circle cx="362.5" cy="175.4" r="1.55" fill="#5646bc" fill-opacity="0.85"/>
<circle cx="367.6" cy="175.4" r="1.6" fill="#120808"/>
<circle cx="372.7" cy="175.4" r="1.55" fill="#5646bc" fill-opacity="0.85"/>
<circle cx="377.8" cy="175.4" r="1.55" fill="#5646bc" fill-opacity="0.85"/>
<circle cx="382.9" cy="175.4" r="1.55" fill="#5646bc" fill-opacity="0.85"/>
<circle cx="316.6" cy="180.5" r="1.55" fill="#5646bc" fill-opacity="0.85"/>
<circle cx="321.7" cy="180.5" r="1.55" fill="#5646bc" fill-opacity="0.85"/>
<circle cx="326.8" cy="180.5" r="1.55" fill="#5646bc" fill-opacity="0.85"/>
<circle cx="331.9" cy="180.5" r="1.55" fill="#5646bc" fill-opacity="0.85"/>
<circle cx="337.0" cy="180.5" r="1.55" fill="#5646bc" fill-opacity="0.85"/>
<circle cx="342.1" cy="180.5" r="1.55" fill="#5646bc" fill-opacity="0.85"/>
<circle cx="347.2" cy="180.5" r="1.55" fill="#5646bc" fill-opacity="0.85"/>
<circle cx="352.3" cy="180.5" r="1.55" fill="#5646bc" fill-opacity="0.85"/>
<circle cx="357.4" cy="180.5" r="1.55" fill="#5646bc" fill-opacity="0.85"/>
<circle cx="362.5" cy="180.5" r="1.55" fill="#5646bc" fill-opacity="0.85"/>
<circle cx="367.6" cy="180.5" r="1.55" fill="#5646bc" fill-opacity="0.85"/>
<circle cx="372.7" cy="180.5" r="1.55" fill="#5646bc" fill-opacity="0.85"/>
<circle cx="377.8" cy="180.5" r="1.55" fill="#5646bc" fill-opacity="0.85"/>
<circle cx="382.9" cy="180.5" r="1.55" fill="#5646bc" fill-opacity="0.85"/>
<circle cx="316.6" cy="185.6" r="1.55" fill="#5646bc" fill-opacity="0.85"/>
<circle cx="321.7" cy="185.6" r="1.55" fill="#5646bc" fill-opacity="0.85"/>
<circle cx="326.8" cy="185.6" r="1.55" fill="#5646bc" fill-opacity="0.85"/>
<circle cx="331.9" cy="185.6" r="1.55" fill="#5646bc" fill-opacity="0.85"/>
<circle cx="337.0" cy="185.6" r="1.55" fill="#5646bc" fill-opacity="0.85"/>
<circle cx="342.1" cy="185.6" r="1.55" fill="#5646bc" fill-opacity="0.85"/>
<circle cx="347.2" cy="185.6" r="1.55" fill="#5646bc" fill-opacity="0.85"/>
<circle cx="352.3" cy="185.6" r="1.55" fill="#5646bc" fill-opacity="0.85"/>
<circle cx="357.4" cy="185.6" r="1.55" fill="#5646bc" fill-opacity="0.85"/>
<circle cx="362.5" cy="185.6" r="1.55" fill="#5646bc" fill-opacity="0.85"/>
<circle cx="367.6" cy="185.6" r="1.55" fill="#5646bc" fill-opacity="0.85"/>
<circle cx="372.7" cy="185.6" r="1.55" fill="#5646bc" fill-opacity="0.85"/>
<circle cx="377.8" cy="185.6" r="1.55" fill="#5646bc" fill-opacity="0.85"/>
<circle cx="382.9" cy="185.6" r="1.55" fill="#5646bc" fill-opacity="0.85"/>
<circle cx="321.7" cy="190.7" r="1.55" fill="#5646bc" fill-opacity="0.85"/>
<circle cx="326.8" cy="190.7" r="1.6" fill="#120808"/>
<circle cx="331.9" cy="190.7" r="1.55" fill="#5646bc" fill-opacity="0.85"/>
<circle cx="337.0" cy="190.7" r="1.55" fill="#5646bc" fill-opacity="0.85"/>
<circle cx="342.1" cy="190.7" r="1.55" fill="#5646bc" fill-opacity="0.85"/>
<circle cx="347.2" cy="190.7" r="1.55" fill="#5646bc" fill-opacity="0.85"/>
<circle cx="352.3" cy="190.7" r="1.55" fill="#5646bc" fill-opacity="0.85"/>
<circle cx="357.4" cy="190.7" r="1.6" fill="#120808"/>
<circle cx="362.5" cy="190.7" r="1.55" fill="#5646bc" fill-opacity="0.85"/>
<circle cx="367.6" cy="190.7" r="1.55" fill="#5646bc" fill-opacity="0.85"/>
<circle cx="372.7" cy="190.7" r="1.55" fill="#5646bc" fill-opacity="0.85"/>
<circle cx="377.8" cy="190.7" r="1.55" fill="#5646bc" fill-opacity="0.85"/>
<circle cx="326.8" cy="195.8" r="1.55" fill="#5646bc" fill-opacity="0.85"/>
<circle cx="331.9" cy="195.8" r="1.55" fill="#5646bc" fill-opacity="0.85"/>
<circle cx="337.0" cy="195.8" r="1.55" fill="#5646bc" fill-opacity="0.85"/>
<circle cx="342.1" cy="195.8" r="1.55" fill="#5646bc" fill-opacity="0.85"/>
<circle cx="347.2" cy="195.8" r="1.55" fill="#5646bc" fill-opacity="0.85"/>
<circle cx="352.3" cy="195.8" r="1.55" fill="#5646bc" fill-opacity="0.85"/>
<circle cx="357.4" cy="195.8" r="1.55" fill="#5646bc" fill-opacity="0.85"/>
<circle cx="362.5" cy="195.8" r="1.55" fill="#5646bc" fill-opacity="0.85"/>
<circle cx="367.6" cy="195.8" r="1.55" fill="#5646bc" fill-opacity="0.85"/>
<circle cx="372.7" cy="195.8" r="1.55" fill="#5646bc" fill-opacity="0.85"/>
<circle cx="331.9" cy="200.9" r="1.55" fill="#5646bc" fill-opacity="0.85"/>
<circle cx="337.0" cy="200.9" r="1.55" fill="#5646bc" fill-opacity="0.85"/>
<circle cx="342.1" cy="200.9" r="1.55" fill="#5646bc" fill-opacity="0.85"/>
<circle cx="347.2" cy="200.9" r="1.55" fill="#5646bc" fill-opacity="0.85"/>
<circle cx="352.3" cy="200.9" r="1.55" fill="#5646bc" fill-opacity="0.85"/>
<circle cx="357.4" cy="200.9" r="1.55" fill="#5646bc" fill-opacity="0.85"/>
<circle cx="362.5" cy="200.9" r="1.55" fill="#5646bc" fill-opacity="0.85"/>
<circle cx="367.6" cy="200.9" r="1.55" fill="#5646bc" fill-opacity="0.85"/>
<circle cx="337.0" cy="206.0" r="1.6" fill="#120808"/>
<circle cx="342.1" cy="206.0" r="1.55" fill="#5646bc" fill-opacity="0.85"/>
<circle cx="347.2" cy="206.0" r="1.55" fill="#5646bc" fill-opacity="0.85"/>
<circle cx="352.3" cy="206.0" r="1.55" fill="#5646bc" fill-opacity="0.85"/>
<circle cx="357.4" cy="206.0" r="1.55" fill="#5646bc" fill-opacity="0.85"/>
<circle cx="362.5" cy="206.0" r="1.55" fill="#5646bc" fill-opacity="0.85"/>
<path d="M328.5,208.5 L341.5,196.5 L352.5,190.5 L360.5,182.5 L370.5,172.5 L378.5,160.5" stroke="#f0b0c0" stroke-opacity="0.5" stroke-width="0.6" fill="none"/>
<path d="M320.5,172.5 L330.5,166.5 L338.5,158.5 L342.5,148.5 L345.5,136.5" stroke="#f0b0c0" stroke-opacity="0.5" stroke-width="0.6" fill="none"/>
<path d="M336.5,202.5 L348.5,196.5 L364.5,192.5 L372.5,182.5" stroke="#f0b0c0" stroke-opacity="0.35" stroke-width="0.5" fill="none"/>
<polygon points="389.0,171.5 388.0,174.5 385.5,179.5 384.0,183.5 381.0,188.0 378.0,194.0 374.5,197.0 368.5,200.0 365.0,202.0 358.5,205.5 353.5,208.0 349.0,210.5 345.0,214.0 343.0,216.5 342.5,220.0 389.0,220.0" fill="#b5b5b5" stroke="#333"  stroke-width="0.5"/>
<polygon points="383.5,210.5 386.5,208.5 388.0,208.5 388.0,220.0 383.0,220.0" fill="#f2f2f2" stroke="#444" stroke-width="0.4"/>
<line x1="308.5" y1="151.8" x2="389.0" y2="151.8" stroke="#444" stroke-opacity="0.38" stroke-width="0.55"/>
<line x1="308.5" y1="178.0" x2="389.0" y2="178.0" stroke="#444" stroke-opacity="0.38" stroke-width="0.55"/>
<line x1="308.5" y1="204.2" x2="389.0" y2="204.2" stroke="#444" stroke-opacity="0.38" stroke-width="0.55"/>
<line x1="323.7" y1="136.5" x2="323.7" y2="220.0" stroke="#444" stroke-opacity="0.38" stroke-width="0.55"/>
<line x1="339.7" y1="136.5" x2="339.7" y2="220.0" stroke="#444" stroke-opacity="0.38" stroke-width="0.55"/>
<line x1="355.9" y1="136.5" x2="355.9" y2="220.0" stroke="#444" stroke-opacity="0.38" stroke-width="0.55"/>
<line x1="372.6" y1="136.5" x2="372.6" y2="220.0" stroke="#444" stroke-opacity="0.38" stroke-width="0.55"/>
<rect x="315.2" y="213.4" width="19.6" height="2.2" fill="#fff" stroke="#222" stroke-width="0.5"/>
<rect x="315.2" y="213.4" width="4.9" height="1.1" fill="#222"/><rect x="325.0" y="213.4" width="4.9" height="1.1" fill="#222"/>
<rect x="320.1" y="214.5" width="4.9" height="1.1" fill="#222"/><rect x="329.9" y="214.5" width="4.9" height="1.1" fill="#222"/>
<text x="323.0" y="212.1" class="tiny">km</text>
<text x="314.5" y="219.0" class="tiny">0</text><text x="322.5" y="219.0" class="tiny">500</text><text x="331.5" y="219.0" class="tiny">1000</text>
<text x="343.5" y="218.0" class="tiny2">pso</text>
</g>
<rect x="308.5" y="136.5" width="80.5" height="83.5" fill="none" stroke="#1e1e1e" stroke-width="1"/>
<rect x="389.6" y="136.5" width="4" height="83.5" fill="url(#cb41)" stroke="#333" stroke-width="0.4"/>
<text x="396.0" y="145.1" class="cbt">1200</text>
<text x="396.0" y="157.7" class="cbt">1000</text>
<text x="396.0" y="170.3" class="cbt">800</text>
<text x="396.0" y="182.9" class="cbt">600</text>
<text x="396.0" y="195.5" class="cbt">400</text>
<text x="396.0" y="208.1" class="cbt">200</text>
<text x="396.0" y="220.7" class="cbt">0</text>
<text x="307.3" y="154.0" class="ax" text-anchor="end">45°</text>
<text x="307.3" y="180.2" class="ax" text-anchor="end">30°</text>
<text x="307.3" y="206.39999999999998" class="ax" text-anchor="end">15°</text>
<text x="318.5" y="224.2" class="ax" text-anchor="middle">6°</text>
<text x="325.0" y="224.2" class="ax" text-anchor="middle">W</text>
<text x="339.7" y="224.2" class="ax" text-anchor="middle">45°</text>
<text x="355.9" y="224.2" class="ax" text-anchor="middle">30°</text>
<text x="372.6" y="224.2" class="ax" text-anchor="middle">15°</text>
<text x="348.75" y="134.7" class="ttl" text-anchor="middle">N</text>
<g clip-path="url(#cr42)">
<rect x="434.5" y="136.5" width="80.5" height="83.5" fill="#fafafa"/>
<path d="M436.5,216.5 L512.5,158.5 M448.5,220.0 L514.5,172.5 M434.5,196.5 L464.5,174.5" stroke="#cfd0d8" stroke-width="0.5" fill="none"/>
<g filter="url(#bl1)">
<polygon points="447.5,145.5 504.5,145.5 505.5,166.5 504.5,186.5 498.5,196.5 484.5,202.5 468.5,202.5 458.5,196.5 450.5,186.5 447.5,166.5" fill="#eebaa6" />
<polygon points="448.5,147.5 503.5,147.5 503.5,190.5 494.5,194.5 479.5,190.5 464.5,188.5 452.5,182.5 448.5,166.5" fill="#e2927a" />
<polygon points="452.5,147.5 502.5,147.5 502.5,184.5 492.5,180.5 480.5,178.5 464.5,176.5 454.5,170.5" fill="#cc6050" />
<polygon points="460.5,147.5 498.5,147.5 502.5,156.5 502.5,182.5 494.5,178.5 486.5,174.5 474.5,172.5 464.5,168.5 458.5,158.5" fill="#a83228" />
<polygon points="464.5,147.5 484.5,146.5 496.5,152.5 500.5,166.5 500.5,180.5 494.5,170.5 488.5,164.5 480.5,158.5 470.5,158.5 464.5,154.5" fill="#8c1c1c" />
<rect x="439.5" y="136.5" width="65" height="13" fill="url(#lg43)"/>
<rect x="439.5" y="136.5" width="9" height="9" fill="#3c5cac" opacity="0.7"/>
<rect x="484.5" y="137.5" width="12" height="7" fill="#4a6cbc" opacity="0.6"/>
<ellipse cx="472.5" cy="190.5" rx="9" ry="4.5" fill="#f4dcd0"/>
<ellipse cx="490.5" cy="196.0" rx="5" ry="2.6" fill="#4a6cc0"/>
<polygon points="477.5,165.5 479.5,157.5 482.0,157.5 480.5,165.5" fill="#fae8f0"/>
<polygon points="500.0,173.5 503.0,175.5 503.0,185.0 500.5,183.5" fill="#fae8f0"/>
</g>
<polygon points="515.0,171.5 514.0,174.5 511.5,179.5 510.0,183.5 507.0,188.0 504.0,194.0 500.5,197.0 494.5,200.0 491.0,202.0 484.5,205.5 479.5,208.0 475.0,210.5 471.0,214.0 469.0,216.5 468.5,220.0 515.0,220.0" fill="#b5b5b5" stroke="#333"  stroke-width="0.5"/>
<polygon points="509.5,210.5 512.5,208.5 514.0,208.5 514.0,220.0 509.0,220.0" fill="#f2f2f2" stroke="#444" stroke-width="0.4"/>
<line x1="434.5" y1="151.8" x2="515.0" y2="151.8" stroke="#444" stroke-opacity="0.38" stroke-width="0.55"/>
<line x1="434.5" y1="178.0" x2="515.0" y2="178.0" stroke="#444" stroke-opacity="0.38" stroke-width="0.55"/>
<line x1="434.5" y1="204.2" x2="515.0" y2="204.2" stroke="#444" stroke-opacity="0.38" stroke-width="0.55"/>
<line x1="449.7" y1="136.5" x2="449.7" y2="220.0" stroke="#444" stroke-opacity="0.38" stroke-width="0.55"/>
<line x1="465.7" y1="136.5" x2="465.7" y2="220.0" stroke="#444" stroke-opacity="0.38" stroke-width="0.55"/>
<line x1="481.9" y1="136.5" x2="481.9" y2="220.0" stroke="#444" stroke-opacity="0.38" stroke-width="0.55"/>
<line x1="498.6" y1="136.5" x2="498.6" y2="220.0" stroke="#444" stroke-opacity="0.38" stroke-width="0.55"/>
<rect x="441.2" y="213.4" width="19.6" height="2.2" fill="#fff" stroke="#222" stroke-width="0.5"/>
<rect x="441.2" y="213.4" width="4.9" height="1.1" fill="#222"/><rect x="451.0" y="213.4" width="4.9" height="1.1" fill="#222"/>
<rect x="446.1" y="214.5" width="4.9" height="1.1" fill="#222"/><rect x="455.9" y="214.5" width="4.9" height="1.1" fill="#222"/>
<text x="449.0" y="212.1" class="tiny">km</text>
<text x="440.5" y="219.0" class="tiny">0</text><text x="448.5" y="219.0" class="tiny">500</text><text x="457.5" y="219.0" class="tiny">1000</text>
<text x="469.5" y="218.0" class="tiny2">pso</text>
</g>
<rect x="434.5" y="136.5" width="80.5" height="83.5" fill="none" stroke="#1e1e1e" stroke-width="1"/>
<rect x="515.6" y="136.5" width="4" height="83.5" fill="url(#cb44)" stroke="#333" stroke-width="0.4"/>
<text x="522.0" y="141.4" class="cbt">0.6</text>
<text x="522.0" y="153.9" class="cbt">0.4</text>
<text x="522.0" y="166.4" class="cbt">0.2</text>
<text x="522.0" y="178.9" class="cbt">0</text>
<text x="522.0" y="191.4" class="cbt">-0.2</text>
<text x="522.0" y="203.9" class="cbt">-0.4</text>
<text x="522.0" y="216.4" class="cbt">-0.6</text>
<text x="433.3" y="154.0" class="ax" text-anchor="end">45°</text>
<text x="433.3" y="180.2" class="ax" text-anchor="end">30°</text>
<text x="433.3" y="206.39999999999998" class="ax" text-anchor="end">15°</text>
<text x="444.5" y="224.2" class="ax" text-anchor="middle">6°</text>
<text x="451.0" y="224.2" class="ax" text-anchor="middle">W</text>
<text x="465.7" y="224.2" class="ax" text-anchor="middle">45°</text>
<text x="481.9" y="224.2" class="ax" text-anchor="middle">30°</text>
<text x="498.6" y="224.2" class="ax" text-anchor="middle">15°</text>
<text x="474.75" y="134.7" class="ttl" text-anchor="middle">bias</text>
<g clip-path="url(#cr45)">
<rect x="308.5" y="236.2" width="80.5" height="83.5" fill="#fafafa"/>
<path d="M310.5,316.2 L386.5,258.2 M322.5,319.7 L388.5,272.2 M308.5,296.2 L338.5,274.2" stroke="#cfd0d8" stroke-width="0.5" fill="none"/>
<polygon points="314.8,236.2 374.0,236.2 379.0,244.7 381.0,260.2 380.0,284.2 376.0,296.2 364.0,301.2 351.0,308.2 344.0,306.2 334.0,297.2 324.0,285.2 319.0,275.2 315.0,260.2" fill="#a89050" />
<g clip-path="url(#cp46)">
<polygon points="314.8,236.2 374.0,236.2 379.0,244.7 381.0,260.2 380.0,284.2 376.0,296.2 364.0,301.2 351.0,308.2 344.0,306.2 334.0,297.2 324.0,285.2 319.0,275.2 315.0,260.2" fill="#e0765a" stroke="#a89050" stroke-width="2.2"/>
<g filter="url(#bl2)">
<polygon points="328.0,265.6 337.8,260.7 354.4,258.8 371.1,261.7 377.0,269.5 377.0,293.1 371.1,302.9 357.4,308.7 347.6,310.7 337.8,302.9 329.9,291.1 326.0,277.4" fill="#e58e72" />
<polygon points="331.9,271.5 341.7,265.6 357.4,264.6 371.1,268.6 375.0,277.4 373.0,293.1 365.2,302.9 353.4,307.8 345.6,304.8 337.8,297.0 331.9,285.2" fill="#edb59c" />
<polygon points="336.8,276.4 347.6,271.5 361.3,271.5 369.1,278.4 369.1,291.1 361.3,299.9 351.5,302.9 343.6,298.0 337.8,287.2" fill="#f3d8c6" />
<polygon points="341.7,282.3 352.5,277.4 363.2,282.3 364.2,291.1 356.4,298.0 347.6,295.0" fill="#f7ede4" />
</g>
</g>
<polygon points="389.0,271.2 388.0,274.2 385.5,279.2 384.0,283.2 381.0,287.7 378.0,293.7 374.5,296.7 368.5,299.7 365.0,301.7 358.5,305.2 353.5,307.7 349.0,310.2 345.0,313.7 343.0,316.2 342.5,319.7 389.0,319.7" fill="#b5b5b5" stroke="#333"  stroke-width="0.5"/>
<polygon points="383.5,310.2 386.5,308.2 388.0,308.2 388.0,319.7 383.0,319.7" fill="#f2f2f2" stroke="#444" stroke-width="0.4"/>
<line x1="308.5" y1="251.5" x2="389.0" y2="251.5" stroke="#444" stroke-opacity="0.38" stroke-width="0.55"/>
<line x1="308.5" y1="277.7" x2="389.0" y2="277.7" stroke="#444" stroke-opacity="0.38" stroke-width="0.55"/>
<line x1="308.5" y1="303.9" x2="389.0" y2="303.9" stroke="#444" stroke-opacity="0.38" stroke-width="0.55"/>
<line x1="323.7" y1="236.2" x2="323.7" y2="319.7" stroke="#444" stroke-opacity="0.38" stroke-width="0.55"/>
<line x1="339.7" y1="236.2" x2="339.7" y2="319.7" stroke="#444" stroke-opacity="0.38" stroke-width="0.55"/>
<line x1="355.9" y1="236.2" x2="355.9" y2="319.7" stroke="#444" stroke-opacity="0.38" stroke-width="0.55"/>
<line x1="372.6" y1="236.2" x2="372.6" y2="319.7" stroke="#444" stroke-opacity="0.38" stroke-width="0.55"/>
<rect x="315.2" y="313.1" width="19.6" height="2.2" fill="#fff" stroke="#222" stroke-width="0.5"/>
<rect x="315.2" y="313.1" width="4.9" height="1.1" fill="#222"/><rect x="325.0" y="313.1" width="4.9" height="1.1" fill="#222"/>
<rect x="320.1" y="314.2" width="4.9" height="1.1" fill="#222"/><rect x="329.9" y="314.2" width="4.9" height="1.1" fill="#222"/>
<text x="323.0" y="311.79999999999995" class="tiny">km</text>
<text x="314.5" y="318.7" class="tiny">0</text><text x="322.5" y="318.7" class="tiny">500</text><text x="331.5" y="318.7" class="tiny">1000</text>
<text x="343.5" y="317.7" class="tiny2">pso</text>
</g>
<rect x="308.5" y="236.2" width="80.5" height="83.5" fill="none" stroke="#1e1e1e" stroke-width="1"/>
<rect x="389.6" y="236.2" width="4" height="83.5" fill="url(#cb47)" stroke="#333" stroke-width="0.4"/>
<text x="396.0" y="246.1" class="cbt">3</text>
<text x="396.0" y="258.3" class="cbt">2.5</text>
<text x="396.0" y="270.5" class="cbt">2</text>
<text x="396.0" y="282.7" class="cbt">1.5</text>
<text x="396.0" y="294.9" class="cbt">1</text>
<text x="396.0" y="307.1" class="cbt">0.5</text>
<text x="396.0" y="319.3" class="cbt">0</text>
<text x="307.3" y="253.7" class="ax" text-anchor="end">45°</text>
<text x="307.3" y="279.9" class="ax" text-anchor="end">30°</text>
<text x="307.3" y="306.09999999999997" class="ax" text-anchor="end">15°</text>
<text x="318.5" y="323.9" class="ax" text-anchor="middle">6°</text>
<text x="325.0" y="323.9" class="ax" text-anchor="middle">W</text>
<text x="339.7" y="323.9" class="ax" text-anchor="middle">45°</text>
<text x="355.9" y="323.9" class="ax" text-anchor="middle">30°</text>
<text x="372.6" y="323.9" class="ax" text-anchor="middle">15°</text>
<text x="348.75" y="234.39999999999998" class="ttl" text-anchor="middle">rms</text>
<g clip-path="url(#cr48)">
<rect x="434.5" y="236.2" width="80.5" height="83.5" fill="#fafafa"/>
<path d="M436.5,316.2 L512.5,258.2 M448.5,319.7 L514.5,272.2 M434.5,296.2 L464.5,274.2" stroke="#cfd0d8" stroke-width="0.5" fill="none"/>
<polygon points="439.8,236.2 500.0,236.2 505.0,244.7 507.0,260.2 506.0,284.2 504.0,293.2 496.5,297.2 484.5,302.2 473.0,305.7 467.0,304.2 458.5,298.2 449.0,286.2 443.0,276.2 440.0,260.2" fill="#bc9a68" />
<g clip-path="url(#cp49)">
<polygon points="439.8,236.2 500.0,236.2 505.0,244.7 507.0,260.2 506.0,284.2 504.0,293.2 496.5,297.2 484.5,302.2 473.0,305.7 467.0,304.2 458.5,298.2 449.0,286.2 443.0,276.2 440.0,260.2" fill="#df8060" stroke="#bc9a68" stroke-width="3"/>
<g filter="url(#bl1)">
<polygon points="444.0,242.4 496.9,242.4 501.3,249.9 503.1,263.6 502.2,284.7 500.5,292.6 493.9,296.1 483.3,300.5 473.2,303.6 467.9,302.3 460.4,297.0 452.1,286.4 446.8,277.6 444.1,263.6" fill="#d05842" />
<polygon points="448.1,248.7 493.9,248.7 497.7,255.1 499.2,266.9 498.4,285.2 496.9,292.0 491.2,295.0 482.1,298.8 473.4,301.5 468.8,300.4 462.3,295.8 455.1,286.7 450.6,279.1 448.3,266.9" fill="#bf3434" />
<polygon points="455.4,259.6 488.5,259.6 491.3,264.3 492.4,272.8 491.8,286.0 490.7,290.9 486.6,293.1 480.0,295.9 473.7,297.8 470.4,297.0 465.7,293.7 460.5,287.1 457.2,281.6 455.5,272.8" fill="#ad2130" />
</g>
</g>
<path d="M454.5,308.2 L467.5,296.2 L478.5,290.2 L486.5,282.2 L496.5,272.2 L504.5,260.2" stroke="#f0b0b0" stroke-opacity="0.6" stroke-width="0.6" fill="none"/>
<path d="M446.5,272.2 L456.5,266.2 L464.5,258.2 L468.5,248.2 L471.5,236.2" stroke="#f0b0b0" stroke-opacity="0.6" stroke-width="0.6" fill="none"/>
<path d="M462.5,302.2 L474.5,296.2 L490.5,292.2 L498.5,282.2" stroke="#f0b0b0" stroke-opacity="0.42" stroke-width="0.5" fill="none"/>
<polygon points="515.0,271.2 514.0,274.2 511.5,279.2 510.0,283.2 507.0,287.7 504.0,293.7 500.5,296.7 494.5,299.7 491.0,301.7 484.5,305.2 479.5,307.7 475.0,310.2 471.0,313.7 469.0,316.2 468.5,319.7 515.0,319.7" fill="#b5b5b5" stroke="#333"  stroke-width="0.5"/>
<polygon points="509.5,310.2 512.5,308.2 514.0,308.2 514.0,319.7 509.0,319.7" fill="#f2f2f2" stroke="#444" stroke-width="0.4"/>
<line x1="434.5" y1="251.5" x2="515.0" y2="251.5" stroke="#444" stroke-opacity="0.38" stroke-width="0.55"/>
<line x1="434.5" y1="277.7" x2="515.0" y2="277.7" stroke="#444" stroke-opacity="0.38" stroke-width="0.55"/>
<line x1="434.5" y1="303.9" x2="515.0" y2="303.9" stroke="#444" stroke-opacity="0.38" stroke-width="0.55"/>
<line x1="449.7" y1="236.2" x2="449.7" y2="319.7" stroke="#444" stroke-opacity="0.38" stroke-width="0.55"/>
<line x1="465.7" y1="236.2" x2="465.7" y2="319.7" stroke="#444" stroke-opacity="0.38" stroke-width="0.55"/>
<line x1="481.9" y1="236.2" x2="481.9" y2="319.7" stroke="#444" stroke-opacity="0.38" stroke-width="0.55"/>
<line x1="498.6" y1="236.2" x2="498.6" y2="319.7" stroke="#444" stroke-opacity="0.38" stroke-width="0.55"/>
<rect x="441.2" y="313.1" width="19.6" height="2.2" fill="#fff" stroke="#222" stroke-width="0.5"/>
<rect x="441.2" y="313.1" width="4.9" height="1.1" fill="#222"/><rect x="451.0" y="313.1" width="4.9" height="1.1" fill="#222"/>
<rect x="446.1" y="314.2" width="4.9" height="1.1" fill="#222"/><rect x="455.9" y="314.2" width="4.9" height="1.1" fill="#222"/>
<text x="449.0" y="311.79999999999995" class="tiny">km</text>
<text x="440.5" y="318.7" class="tiny">0</text><text x="448.5" y="318.7" class="tiny">500</text><text x="457.5" y="318.7" class="tiny">1000</text>
<text x="469.5" y="317.7" class="tiny2">pso</text>
</g>
<rect x="434.5" y="236.2" width="80.5" height="83.5" fill="none" stroke="#1e1e1e" stroke-width="1"/>
<rect x="515.6" y="236.2" width="4" height="83.5" fill="url(#cb50)" stroke="#333" stroke-width="0.4"/>
<text x="522.0" y="237.3" class="cbt">1</text>
<text x="522.0" y="252.6" class="cbt">0.8</text>
<text x="522.0" y="267.9" class="cbt">0.6</text>
<text x="522.0" y="283.2" class="cbt">0.4</text>
<text x="522.0" y="298.5" class="cbt">0.2</text>
<text x="522.0" y="313.8" class="cbt">0</text>
<text x="433.3" y="253.7" class="ax" text-anchor="end">45°</text>
<text x="433.3" y="279.9" class="ax" text-anchor="end">30°</text>
<text x="433.3" y="306.09999999999997" class="ax" text-anchor="end">15°</text>
<text x="444.5" y="323.9" class="ax" text-anchor="middle">6°</text>
<text x="451.0" y="323.9" class="ax" text-anchor="middle">W</text>
<text x="465.7" y="323.9" class="ax" text-anchor="middle">45°</text>
<text x="481.9" y="323.9" class="ax" text-anchor="middle">30°</text>
<text x="498.6" y="323.9" class="ax" text-anchor="middle">15°</text>
<text x="474.75" y="234.39999999999998" class="ttl" text-anchor="middle">cc</text>
<g clip-path="url(#cr51)">
<rect x="308.5" y="339" width="80.5" height="83.5" fill="#fafafa"/>
<path d="M310.5,419 L386.5,361 M322.5,422.5 L388.5,375 M308.5,399 L338.5,377" stroke="#cfd0d8" stroke-width="0.5" fill="none"/>
<polygon points="314.8,339.0 374.0,339.0 379.0,346.8 380.5,360.0 380.5,385.7 377.0,394.4 369.0,400.0 357.0,406.0 347.0,408.0 339.0,402.0 331.0,392.0 322.0,380.0 316.0,365.0 314.5,345.0" fill="#844830" />
<g clip-path="url(#cp52)">
<polygon points="314.8,339.0 374.0,339.0 379.0,346.8 380.5,360.0 380.5,385.7 377.0,394.4 369.0,400.0 357.0,406.0 347.0,408.0 339.0,402.0 331.0,392.0 322.0,380.0 316.0,365.0 314.5,345.0" fill="#aa1c2a" stroke="#844830" stroke-width="4"/>
<rect x="308.5" y="339" width="80.5" height="5.5" fill="#7a4630"/>
<polygon points="324.5,379.0 334.5,370.0 348.5,368.0 364.5,371.0 372.5,379.0 372.5,391.0 364.5,399.0 350.5,405.0 338.5,401.0 330.5,391.0" fill="#7a0e1a"/>
</g>
<path d="M328.5,411 L341.5,399 L352.5,393 L360.5,385 L370.5,375 L378.5,363" stroke="#eaa0a8" stroke-opacity="0.75" stroke-width="0.6" fill="none"/>
<path d="M320.5,375 L330.5,369 L338.5,361 L342.5,351 L345.5,339" stroke="#eaa0a8" stroke-opacity="0.75" stroke-width="0.6" fill="none"/>
<path d="M336.5,405 L348.5,399 L364.5,395 L372.5,385" stroke="#eaa0a8" stroke-opacity="0.5249999999999999" stroke-width="0.5" fill="none"/>
<polygon points="389.0,374.0 388.0,377.0 385.5,382.0 384.0,386.0 381.0,390.5 378.0,396.5 374.5,399.5 368.5,402.5 365.0,404.5 358.5,408.0 353.5,410.5 349.0,413.0 345.0,416.5 343.0,419.0 342.5,422.5 389.0,422.5" fill="#b5b5b5" stroke="#333"  stroke-width="0.5"/>
<polygon points="383.5,413.0 386.5,411.0 388.0,411.0 388.0,422.5 383.0,422.5" fill="#f2f2f2" stroke="#444" stroke-width="0.4"/>
<line x1="308.5" y1="354.3" x2="389.0" y2="354.3" stroke="#444" stroke-opacity="0.38" stroke-width="0.55"/>
<line x1="308.5" y1="380.5" x2="389.0" y2="380.5" stroke="#444" stroke-opacity="0.38" stroke-width="0.55"/>
<line x1="308.5" y1="406.7" x2="389.0" y2="406.7" stroke="#444" stroke-opacity="0.38" stroke-width="0.55"/>
<line x1="323.7" y1="339" x2="323.7" y2="422.5" stroke="#444" stroke-opacity="0.38" stroke-width="0.55"/>
<line x1="339.7" y1="339" x2="339.7" y2="422.5" stroke="#444" stroke-opacity="0.38" stroke-width="0.55"/>
<line x1="355.9" y1="339" x2="355.9" y2="422.5" stroke="#444" stroke-opacity="0.38" stroke-width="0.55"/>
<line x1="372.6" y1="339" x2="372.6" y2="422.5" stroke="#444" stroke-opacity="0.38" stroke-width="0.55"/>
<rect x="315.2" y="415.9" width="19.6" height="2.2" fill="#fff" stroke="#222" stroke-width="0.5"/>
<rect x="315.2" y="415.9" width="4.9" height="1.1" fill="#222"/><rect x="325.0" y="415.9" width="4.9" height="1.1" fill="#222"/>
<rect x="320.1" y="417" width="4.9" height="1.1" fill="#222"/><rect x="329.9" y="417" width="4.9" height="1.1" fill="#222"/>
<text x="323.0" y="414.6" class="tiny">km</text>
<text x="314.5" y="421.5" class="tiny">0</text><text x="322.5" y="421.5" class="tiny">500</text><text x="331.5" y="421.5" class="tiny">1000</text>
<text x="343.5" y="420.5" class="tiny2">pso</text>
</g>
<rect x="308.5" y="339" width="80.5" height="83.5" fill="none" stroke="#1e1e1e" stroke-width="1"/>
<rect x="389.6" y="339" width="4" height="83.5" fill="url(#cb53)" stroke="#333" stroke-width="0.4"/>
<text x="396.0" y="340.5" class="cbt">1</text>
<text x="396.0" y="355.6" class="cbt">0.8</text>
<text x="396.0" y="370.7" class="cbt">0.6</text>
<text x="396.0" y="385.8" class="cbt">0.4</text>
<text x="396.0" y="400.9" class="cbt">0.2</text>
<text x="396.0" y="416.0" class="cbt">0</text>
<text x="307.3" y="356.5" class="ax" text-anchor="end">45°</text>
<text x="307.3" y="382.7" class="ax" text-anchor="end">30°</text>
<text x="307.3" y="408.9" class="ax" text-anchor="end">15°</text>
<text x="318.5" y="426.7" class="ax" text-anchor="middle">6°</text>
<text x="325.0" y="426.7" class="ax" text-anchor="middle">W</text>
<text x="339.7" y="426.7" class="ax" text-anchor="middle">45°</text>
<text x="355.9" y="426.7" class="ax" text-anchor="middle">30°</text>
<text x="372.6" y="426.7" class="ax" text-anchor="middle">15°</text>
<text x="348.75" y="337.2" class="ttl" text-anchor="middle">nvcorr</text>
<g clip-path="url(#cr54)">
<rect x="434.5" y="339" width="80.5" height="83.5" fill="#fafafa"/>
<path d="M436.5,419 L512.5,361 M448.5,422.5 L514.5,375 M434.5,399 L464.5,377" stroke="#cfd0d8" stroke-width="0.5" fill="none"/>
<polygon points="448.3,339.0 479.3,339.0 485.0,343.5 490.1,351.8 494.7,361.5 498.2,371.6 500.3,383.9 501.3,395.1 502.3,398.1 496.2,399.7 488.0,402.2 480.4,406.8 474.3,409.3 468.7,407.8 461.6,402.7 453.4,393.0 446.3,381.8 442.7,372.6 442.2,368.6 444.3,359.4 447.3,349.2 448.3,342.0" fill="#f5ede6" />
<g clip-path="url(#cp55)">
<rect x="434.5" y="339" width="24" height="83.5" fill="#eef2f8"/>
<g clip-path="url(#cp56)" fill="none" stroke-linejoin="round">
<polygon points="448.3,339.0 479.3,339.0 485.0,343.5 490.1,351.8 494.7,361.5 498.2,371.6 500.3,383.9 501.3,395.1 502.3,398.1 496.2,399.7 488.0,402.2 480.4,406.8 474.3,409.3 468.7,407.8 461.6,402.7 453.4,393.0 446.3,381.8 442.7,372.6 442.2,368.6 444.3,359.4 447.3,349.2 448.3,342.0" stroke="#e2ecf6" stroke-width="25.3"/>
<polygon points="448.3,339.0 479.3,339.0 485.0,343.5 490.1,351.8 494.7,361.5 498.2,371.6 500.3,383.9 501.3,395.1 502.3,398.1 496.2,399.7 488.0,402.2 480.4,406.8 474.3,409.3 468.7,407.8 461.6,402.7 453.4,393.0 446.3,381.8 442.7,372.6 442.2,368.6 444.3,359.4 447.3,349.2 448.3,342.0" stroke="#bcd2ec" stroke-width="17.2"/>
<polygon points="448.3,339.0 479.3,339.0 485.0,343.5 490.1,351.8 494.7,361.5 498.2,371.6 500.3,383.9 501.3,395.1 502.3,398.1 496.2,399.7 488.0,402.2 480.4,406.8 474.3,409.3 468.7,407.8 461.6,402.7 453.4,393.0 446.3,381.8 442.7,372.6 442.2,368.6 444.3,359.4 447.3,349.2 448.3,342.0" stroke="#8aaadc" stroke-width="11.5"/>
<polygon points="448.3,339.0 479.3,339.0 485.0,343.5 490.1,351.8 494.7,361.5 498.2,371.6 500.3,383.9 501.3,395.1 502.3,398.1 496.2,399.7 488.0,402.2 480.4,406.8 474.3,409.3 468.7,407.8 461.6,402.7 453.4,393.0 446.3,381.8 442.7,372.6 442.2,368.6 444.3,359.4 447.3,349.2 448.3,342.0" stroke="#5a7ec4" stroke-width="6.9"/>
<polygon points="448.3,339.0 479.3,339.0 485.0,343.5 490.1,351.8 494.7,361.5 498.2,371.6 500.3,383.9 501.3,395.1 502.3,398.1 496.2,399.7 488.0,402.2 480.4,406.8 474.3,409.3 468.7,407.8 461.6,402.7 453.4,393.0 446.3,381.8 442.7,372.6 442.2,368.6 444.3,359.4 447.3,349.2 448.3,342.0" stroke="#34509e" stroke-width="3.4"/>
</g>
<g clip-path="url(#cr57)" fill="none" stroke-linejoin="round">
<polygon points="448.3,339.0 479.3,339.0 485.0,343.5 490.1,351.8 494.7,361.5 498.2,371.6 500.3,383.9 501.3,395.1 502.3,398.1 496.2,399.7 488.0,402.2 480.4,406.8 474.3,409.3 468.7,407.8 461.6,402.7 453.4,393.0 446.3,381.8 442.7,372.6 442.2,368.6 444.3,359.4 447.3,349.2 448.3,342.0" stroke="#f4e2d6" stroke-width="22.1"/>
<polygon points="448.3,339.0 479.3,339.0 485.0,343.5 490.1,351.8 494.7,361.5 498.2,371.6 500.3,383.9 501.3,395.1 502.3,398.1 496.2,399.7 488.0,402.2 480.4,406.8 474.3,409.3 468.7,407.8 461.6,402.7 453.4,393.0 446.3,381.8 442.7,372.6 442.2,368.6 444.3,359.4 447.3,349.2 448.3,342.0" stroke="#efc6b2" stroke-width="14.3"/>
<polygon points="448.3,339.0 479.3,339.0 485.0,343.5 490.1,351.8 494.7,361.5 498.2,371.6 500.3,383.9 501.3,395.1 502.3,398.1 496.2,399.7 488.0,402.2 480.4,406.8 474.3,409.3 468.7,407.8 461.6,402.7 453.4,393.0 446.3,381.8 442.7,372.6 442.2,368.6 444.3,359.4 447.3,349.2 448.3,342.0" stroke="#e29c82" stroke-width="9.1"/>
<polygon points="448.3,339.0 479.3,339.0 485.0,343.5 490.1,351.8 494.7,361.5 498.2,371.6 500.3,383.9 501.3,395.1 502.3,398.1 496.2,399.7 488.0,402.2 480.4,406.8 474.3,409.3 468.7,407.8 461.6,402.7 453.4,393.0 446.3,381.8 442.7,372.6 442.2,368.6 444.3,359.4 447.3,349.2 448.3,342.0" stroke="#c4644c" stroke-width="5.5"/>
<polygon points="448.3,339.0 479.3,339.0 485.0,343.5 490.1,351.8 494.7,361.5 498.2,371.6 500.3,383.9 501.3,395.1 502.3,398.1 496.2,399.7 488.0,402.2 480.4,406.8 474.3,409.3 468.7,407.8 461.6,402.7 453.4,393.0 446.3,381.8 442.7,372.6 442.2,368.6 444.3,359.4 447.3,349.2 448.3,342.0" stroke="#883222" stroke-width="2.9"/>
</g>
</g>
<polygon points="515.0,374.0 514.0,377.0 511.5,382.0 510.0,386.0 507.0,390.5 504.0,396.5 500.5,399.5 494.5,402.5 491.0,404.5 484.5,408.0 479.5,410.5 475.0,413.0 471.0,416.5 469.0,419.0 468.5,422.5 515.0,422.5" fill="#b5b5b5" stroke="#333"  stroke-width="0.5"/>
<polygon points="509.5,413.0 512.5,411.0 514.0,411.0 514.0,422.5 509.0,422.5" fill="#f2f2f2" stroke="#444" stroke-width="0.4"/>
<line x1="434.5" y1="354.3" x2="515.0" y2="354.3" stroke="#444" stroke-opacity="0.38" stroke-width="0.55"/>
<line x1="434.5" y1="380.5" x2="515.0" y2="380.5" stroke="#444" stroke-opacity="0.38" stroke-width="0.55"/>
<line x1="434.5" y1="406.7" x2="515.0" y2="406.7" stroke="#444" stroke-opacity="0.38" stroke-width="0.55"/>
<line x1="449.7" y1="339" x2="449.7" y2="422.5" stroke="#444" stroke-opacity="0.38" stroke-width="0.55"/>
<line x1="465.7" y1="339" x2="465.7" y2="422.5" stroke="#444" stroke-opacity="0.38" stroke-width="0.55"/>
<line x1="481.9" y1="339" x2="481.9" y2="422.5" stroke="#444" stroke-opacity="0.38" stroke-width="0.55"/>
<line x1="498.6" y1="339" x2="498.6" y2="422.5" stroke="#444" stroke-opacity="0.38" stroke-width="0.55"/>
<rect x="441.2" y="415.9" width="19.6" height="2.2" fill="#fff" stroke="#222" stroke-width="0.5"/>
<rect x="441.2" y="415.9" width="4.9" height="1.1" fill="#222"/><rect x="451.0" y="415.9" width="4.9" height="1.1" fill="#222"/>
<rect x="446.1" y="417" width="4.9" height="1.1" fill="#222"/><rect x="455.9" y="417" width="4.9" height="1.1" fill="#222"/>
<text x="449.0" y="414.6" class="tiny">km</text>
<text x="440.5" y="421.5" class="tiny">0</text><text x="448.5" y="421.5" class="tiny">500</text><text x="457.5" y="421.5" class="tiny">1000</text>
<text x="469.5" y="420.5" class="tiny2">pso</text>
</g>
<rect x="434.5" y="339" width="80.5" height="83.5" fill="none" stroke="#1e1e1e" stroke-width="1"/>
<rect x="515.6" y="339" width="4" height="83.5" fill="url(#cb58)" stroke="#333" stroke-width="0.4"/>
<text x="522.0" y="348.7" class="cbt">20</text>
<text x="522.0" y="365.2" class="cbt">10</text>
<text x="522.0" y="381.7" class="cbt">0</text>
<text x="522.0" y="398.2" class="cbt">-10</text>
<text x="522.0" y="414.7" class="cbt">-20</text>
<text x="433.3" y="356.5" class="ax" text-anchor="end">45°</text>
<text x="433.3" y="382.7" class="ax" text-anchor="end">30°</text>
<text x="433.3" y="408.9" class="ax" text-anchor="end">15°</text>
<text x="444.5" y="426.7" class="ax" text-anchor="middle">6°</text>
<text x="451.0" y="426.7" class="ax" text-anchor="middle">W</text>
<text x="465.7" y="426.7" class="ax" text-anchor="middle">45°</text>
<text x="481.9" y="426.7" class="ax" text-anchor="middle">30°</text>
<text x="498.6" y="426.7" class="ax" text-anchor="middle">15°</text>
<text x="474.75" y="337.2" class="ttl" text-anchor="middle">npnase</text>
<text x="408.5" y="118" class="ptl" text-anchor="middle">whc nn Wind Speed statistics</text>
<rect x="0" y="0" width="550" height="6" fill="#fff"/>
<rect x="0" y="107" width="550" height="2" fill="#fff"/>
<rect x="0" y="332" width="550" height="2" fill="#fff"/>
</svg>
</body></html>
